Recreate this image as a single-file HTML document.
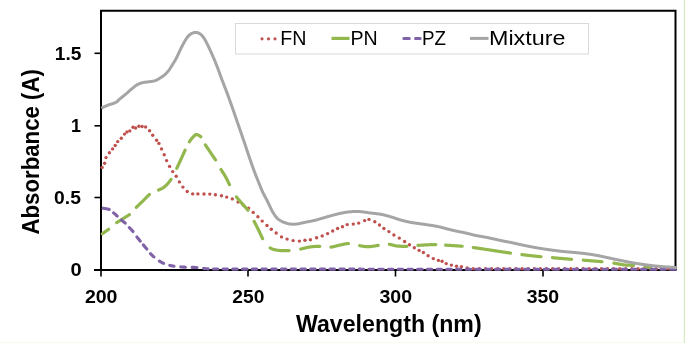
<!DOCTYPE html>
<html><head><meta charset="utf-8"><style>
html,body{margin:0;padding:0;background:#fff;}
body{width:685px;height:343px;overflow:hidden;position:relative;}
svg{position:absolute;left:0;top:0;will-change:transform;}
text{font-family:"Liberation Sans", sans-serif;}
</style></head><body>
<svg width="685" height="343" viewBox="0 0 685 343">
<rect x="0" y="0" width="685" height="343" fill="#ffffff"/>
<rect x="683" y="0" width="1" height="343" fill="#f9fcf5"/>
<rect x="684" y="0" width="1" height="343" fill="#d3ecbd"/>
<rect x="0" y="342" width="683" height="1" fill="#f4faee"/>
<!-- plot frame -->
<path d="M101,271 V10.8 H675.5 V270" fill="none" stroke="#000" stroke-width="2"/>
<line x1="94" y1="270" x2="676.5" y2="270" stroke="#000" stroke-width="2"/>
<!-- y ticks -->
<g stroke="#000" stroke-width="1.6">
<line x1="94.5" y1="53.3" x2="101" y2="53.3"/>
<line x1="94.5" y1="125.8" x2="101" y2="125.8"/>
<line x1="94.5" y1="197.5" x2="101" y2="197.5"/>
<line x1="101" y1="270" x2="101" y2="276.5"/>
<line x1="248" y1="270" x2="248" y2="276.5"/>
<line x1="395.5" y1="270" x2="395.5" y2="276.5"/>
<line x1="543" y1="270" x2="543" y2="276.5"/>
</g>
<!-- series -->
<g fill="#c0504d"><circle cx="102.1" cy="167.4" r="1.7"/><circle cx="104.6" cy="163.3" r="1.7"/><circle cx="106.0" cy="157.6" r="1.7"/><circle cx="109.4" cy="152.8" r="1.7"/><circle cx="112.6" cy="148.9" r="1.7"/><circle cx="115.2" cy="145.5" r="1.7"/><circle cx="117.7" cy="141.6" r="1.7"/><circle cx="121.3" cy="138.2" r="1.7"/><circle cx="124.5" cy="134.1" r="1.7"/><circle cx="126.9" cy="132.0" r="1.7"/><circle cx="129.8" cy="130.9" r="1.7"/><circle cx="133.0" cy="127.3" r="1.7"/><circle cx="135.6" cy="128.0" r="1.7"/><circle cx="138.9" cy="126.2" r="1.7"/><circle cx="142.1" cy="126.5" r="1.7"/><circle cx="145.6" cy="127.0" r="1.7"/><circle cx="149.6" cy="130.8" r="1.7"/><circle cx="152.7" cy="135.3" r="1.7"/><circle cx="156.6" cy="140.2" r="1.7"/><circle cx="158.9" cy="143.4" r="1.7"/><circle cx="161.5" cy="148.9" r="1.7"/><circle cx="164.2" cy="154.7" r="1.7"/><circle cx="166.6" cy="160.6" r="1.7"/><circle cx="169.6" cy="166.4" r="1.7"/><circle cx="172.7" cy="171.6" r="1.7"/><circle cx="176.2" cy="176.3" r="1.7"/><circle cx="179.4" cy="181.9" r="1.7"/><circle cx="182.9" cy="187.1" r="1.7"/><circle cx="187.2" cy="191.5" r="1.7"/><circle cx="192.7" cy="193.9" r="1.7"/><circle cx="197.9" cy="193.9" r="1.7"/><circle cx="204.0" cy="194.0" r="1.7"/><circle cx="209.8" cy="194.1" r="1.7"/><circle cx="215.4" cy="194.8" r="1.7"/><circle cx="221.5" cy="195.7" r="1.7"/><circle cx="226.7" cy="197.1" r="1.7"/><circle cx="232.3" cy="198.9" r="1.7"/><circle cx="238.1" cy="202.0" r="1.7"/><circle cx="243.3" cy="205.0" r="1.7"/><circle cx="248.6" cy="208.1" r="1.7"/><circle cx="253.2" cy="212.4" r="1.7"/><circle cx="257.9" cy="216.7" r="1.7"/><circle cx="262.2" cy="221.1" r="1.7"/><circle cx="267.0" cy="225.5" r="1.7"/><circle cx="271.3" cy="229.3" r="1.7"/><circle cx="276.2" cy="233.0" r="1.7"/><circle cx="281.5" cy="236.9" r="1.7"/><circle cx="287.1" cy="239.1" r="1.7"/><circle cx="293.1" cy="240.6" r="1.7"/><circle cx="299.4" cy="241.1" r="1.7"/><circle cx="305.0" cy="240.3" r="1.7"/><circle cx="310.4" cy="239.7" r="1.7"/><circle cx="316.6" cy="237.7" r="1.7"/><circle cx="322.2" cy="235.9" r="1.7"/><circle cx="327.6" cy="233.6" r="1.7"/><circle cx="332.7" cy="231.0" r="1.7"/><circle cx="337.6" cy="228.5" r="1.7"/><circle cx="342.5" cy="226.7" r="1.7"/><circle cx="347.2" cy="224.6" r="1.7"/><circle cx="353.3" cy="224.1" r="1.7"/><circle cx="358.7" cy="223.1" r="1.7"/><circle cx="364.6" cy="220.6" r="1.7"/><circle cx="369.0" cy="219.4" r="1.7"/><circle cx="374.8" cy="221.8" r="1.7"/><circle cx="379.5" cy="225.0" r="1.7"/><circle cx="383.9" cy="228.5" r="1.7"/><circle cx="388.9" cy="231.6" r="1.7"/><circle cx="393.9" cy="235.0" r="1.7"/><circle cx="399.3" cy="238.1" r="1.7"/><circle cx="404.6" cy="241.5" r="1.7"/><circle cx="409.5" cy="244.8" r="1.7"/><circle cx="414.3" cy="247.8" r="1.7"/><circle cx="419.1" cy="250.4" r="1.7"/><circle cx="423.4" cy="252.5" r="1.7"/><circle cx="428.1" cy="255.8" r="1.7"/><circle cx="433.3" cy="258.6" r="1.7"/><circle cx="438.4" cy="260.4" r="1.7"/><circle cx="442.1" cy="261.3" r="1.7"/><circle cx="446.2" cy="263.6" r="1.7"/><circle cx="451.4" cy="265.1" r="1.7"/><circle cx="456.5" cy="266.3" r="1.7"/><circle cx="461.4" cy="266.7" r="1.7"/><circle cx="467.2" cy="267.9" r="1.7"/><circle cx="473.3" cy="268.8" r="1.7"/><circle cx="479.4" cy="268.8" r="1.7"/><circle cx="485.5" cy="268.8" r="1.7"/><circle cx="491.6" cy="268.8" r="1.7"/><circle cx="497.7" cy="268.8" r="1.7"/><circle cx="503.8" cy="268.8" r="1.7"/><circle cx="509.9" cy="268.8" r="1.7"/><circle cx="516.0" cy="268.8" r="1.7"/><circle cx="522.1" cy="268.8" r="1.7"/><circle cx="528.2" cy="268.8" r="1.7"/><circle cx="534.3" cy="268.8" r="1.7"/><circle cx="540.4" cy="268.8" r="1.7"/><circle cx="546.5" cy="268.8" r="1.7"/><circle cx="552.6" cy="268.8" r="1.7"/><circle cx="558.7" cy="268.8" r="1.7"/><circle cx="564.8" cy="268.8" r="1.7"/><circle cx="570.9" cy="268.8" r="1.7"/><circle cx="577.0" cy="268.8" r="1.7"/><circle cx="583.1" cy="268.8" r="1.7"/><circle cx="589.2" cy="268.8" r="1.7"/><circle cx="595.3" cy="268.8" r="1.7"/><circle cx="601.4" cy="268.8" r="1.7"/><circle cx="607.5" cy="268.8" r="1.7"/><circle cx="613.6" cy="268.8" r="1.7"/><circle cx="619.7" cy="268.8" r="1.7"/><circle cx="625.8" cy="268.8" r="1.7"/><circle cx="631.9" cy="268.8" r="1.7"/><circle cx="638.0" cy="268.8" r="1.7"/><circle cx="644.1" cy="268.8" r="1.7"/><circle cx="650.2" cy="268.8" r="1.7"/><circle cx="656.3" cy="268.8" r="1.7"/><circle cx="662.4" cy="268.8" r="1.7"/><circle cx="668.5" cy="268.8" r="1.7"/><circle cx="674.6" cy="268.8" r="1.7"/></g>
<path d="M102.30,233.75 L102.60,233.55 L102.90,233.34 L103.20,233.13 L103.50,232.92 L103.80,232.71 L104.10,232.50 L104.40,232.29 L104.70,232.07 L105.00,231.86 L105.30,231.64 L105.60,231.43 L105.90,231.21 L106.20,230.99 L106.50,230.78 L106.80,230.56 L107.10,230.34 L107.40,230.12 L107.70,229.89 L108.00,229.67 L108.30,229.44 L108.60,229.22 M116.70,222.67 L117.00,222.47 L117.30,222.27 L117.60,222.07 L117.90,221.88 L118.20,221.68 L118.50,221.49 L118.80,221.30 L119.10,221.12 L119.40,220.93 L119.70,220.75 L120.00,220.56 L120.30,220.38 L120.60,220.20 L120.90,220.01 L121.20,219.83 L121.50,219.64 L121.80,219.46 L122.10,219.27 L122.40,219.08 L122.70,218.89 L123.00,218.70 L123.30,218.51 L123.60,218.32 L123.90,218.13 L124.20,217.94 L124.50,217.76 L124.80,217.57 L125.10,217.39 L125.40,217.20 L125.70,217.02 L126.00,216.83 L126.30,216.65 L126.60,216.46 L126.90,216.27 L127.20,216.08 L127.50,215.89 L127.80,215.70 L128.10,215.50 L128.40,215.30 L128.70,215.09 L129.00,214.88 L129.30,214.67 L129.40,214.60 M136.30,207.36 L136.60,207.05 L136.90,206.75 L137.20,206.45 L137.50,206.15 L137.80,205.86 L138.10,205.57 L138.40,205.28 L138.70,204.99 L139.00,204.70 L139.30,204.42 L139.60,204.14 L139.90,203.85 L140.20,203.57 L140.50,203.29 L140.80,203.01 L141.10,202.72 L141.40,202.44 L141.70,202.16 L142.00,201.87 L142.30,201.58 L142.60,201.29 L142.90,201.00 L143.20,200.71 L143.50,200.41 L143.80,200.10 L144.10,199.80 L144.40,199.49 L144.70,199.18 L145.00,198.86 L145.30,198.55 L145.60,198.24 L145.90,197.93 L146.20,197.62 L146.50,197.31 L146.80,197.00 L147.10,196.70 L147.40,196.40 L147.70,196.10 L148.00,195.81 L148.30,195.53 L148.60,195.25 L148.90,194.98 L149.20,194.72 L149.40,194.55 M158.50,190.01 L158.80,189.89 L159.10,189.77 L159.40,189.65 L159.70,189.52 L160.00,189.39 L160.30,189.26 L160.60,189.13 L160.90,188.99 L161.20,188.85 L161.50,188.71 L161.80,188.56 L162.10,188.41 L162.40,188.25 L162.70,188.09 L163.00,187.91 L163.30,187.71 L163.60,187.49 L163.90,187.26 L164.20,187.01 L164.50,186.76 L164.80,186.50 L165.10,186.23 L165.40,185.95 L165.70,185.67 L166.00,185.39 L166.30,185.11 L166.60,184.81 L166.90,184.51 L167.20,184.20 L167.50,183.87 L167.80,183.54 L168.10,183.20 L168.40,182.84 L168.70,182.48 L169.00,182.10 L169.30,181.72 L169.60,181.32 L169.90,180.92 L170.20,180.50 L170.50,180.08 L170.80,179.65 L171.00,179.35 M176.70,168.39 L177.00,167.78 L177.30,167.15 L177.60,166.52 L177.90,165.89 L178.20,165.25 L178.50,164.61 L178.80,163.97 L179.10,163.32 L179.40,162.67 L179.70,162.02 L180.00,161.37 L180.30,160.72 L180.60,160.07 L180.90,159.42 L181.20,158.76 L181.50,158.10 L181.80,157.44 L182.10,156.77 L182.40,156.09 L182.70,155.42 L183.00,154.74 L183.30,154.07 L183.60,153.40 L183.90,152.73 L184.20,152.07 L184.50,151.41 L184.80,150.76 L185.10,150.12 M189.40,141.77 L189.70,141.31 L190.00,140.87 L190.30,140.44 L190.60,140.02 L190.90,139.61 L191.20,139.22 L191.50,138.84 L191.80,138.48 L192.10,138.14 L192.40,137.81 L192.70,137.50 L193.00,137.18 L193.30,136.86 L193.60,136.53 L193.90,136.22 L194.20,135.91 L194.50,135.62 L194.80,135.35 L195.10,135.12 L195.40,134.92 L195.70,134.76 L196.00,134.64 L196.30,134.59 L196.60,134.58 L196.90,134.61 L197.20,134.68 L197.50,134.78 L197.80,134.89 L198.10,135.02 L198.40,135.16 L198.70,135.29 L199.00,135.44 L199.30,135.61 L199.60,135.80 L199.90,136.01 L200.20,136.25 L200.50,136.50 L200.80,136.78 M205.40,144.85 L205.70,145.33 L206.00,145.80 L206.30,146.27 L206.60,146.73 L206.90,147.18 L207.20,147.63 L207.50,148.08 L207.80,148.52 L208.10,148.96 L208.40,149.40 L208.70,149.84 L209.00,150.28 L209.30,150.72 L209.60,151.16 L209.90,151.60 L210.20,152.05 L210.50,152.50 L210.80,152.95 L211.10,153.40 L211.40,153.84 L211.70,154.28 L212.00,154.72 L212.30,155.16 L212.60,155.60 L212.90,156.03 L213.20,156.47 L213.50,156.92 L213.80,157.36 L214.10,157.81 L214.40,158.26 L214.70,158.72 L215.00,159.18 L215.30,159.65 L215.50,159.96 M221.00,169.49 L221.30,169.98 L221.60,170.46 L221.90,170.93 L222.20,171.40 L222.50,171.86 L222.80,172.33 L223.10,172.79 L223.40,173.26 L223.70,173.73 L224.00,174.21 L224.30,174.69 L224.60,175.19 L224.90,175.69 L225.20,176.20 L225.50,176.72 L225.80,177.26 L226.10,177.82 L226.40,178.39 L226.70,178.98 L227.00,179.57 L227.30,180.18 L227.60,180.79 L227.90,181.41 L228.20,182.02 L228.50,182.64 L228.80,183.25 L229.10,183.85 L229.40,184.45 L229.50,184.64 M236.50,196.88 L236.80,197.28 L237.10,197.67 L237.40,198.06 L237.70,198.43 L238.00,198.81 L238.30,199.17 L238.60,199.53 L238.90,199.89 L239.20,200.24 L239.50,200.59 L239.80,200.94 L240.10,201.29 L240.40,201.63 L240.70,201.98 L241.00,202.33 L241.30,202.68 L241.60,203.03 L241.90,203.38 L242.20,203.74 L242.50,204.08 L242.80,204.42 L243.10,204.75 L243.40,205.08 L243.70,205.40 L244.00,205.72 L244.30,206.04 L244.60,206.36 L244.90,206.68 L245.20,207.00 L245.50,207.32 L245.80,207.65 L246.10,207.98 L246.40,208.32 L246.70,208.66 L247.00,209.02 L247.30,209.38 L247.60,209.76 L247.90,210.14 L248.00,210.27 M254.10,221.34 L254.40,221.91 L254.70,222.48 L255.00,223.06 L255.30,223.63 L255.60,224.21 L255.90,224.79 L256.20,225.37 L256.50,225.95 L256.80,226.54 L257.10,227.12 L257.40,227.71 L257.70,228.31 L258.00,228.90 L258.30,229.50 L258.60,230.11 L258.90,230.74 L259.20,231.39 L259.50,232.04 L259.80,232.71 L260.10,233.38 L260.40,234.05 L260.70,234.71 L261.00,235.37 L261.30,236.02 L261.60,236.66 L261.90,237.28 L262.20,237.87 L262.50,238.45 L262.60,238.63 M270.10,247.92 L270.40,248.08 L270.70,248.24 L271.00,248.40 L271.30,248.54 L271.60,248.68 L271.90,248.82 L272.20,248.94 L272.50,249.06 L272.80,249.16 L273.10,249.26 L273.40,249.35 L273.70,249.43 L274.00,249.50 L274.30,249.56 L274.60,249.63 L274.90,249.70 L275.20,249.76 L275.50,249.83 L275.80,249.90 L276.10,249.96 L276.40,250.03 L276.70,250.09 L277.00,250.15 L277.30,250.20 L277.60,250.26 L277.90,250.31 L278.20,250.35 L278.50,250.39 L278.80,250.43 L279.10,250.46 L279.40,250.48 L279.70,250.50 L280.00,250.51 L280.30,250.53 L280.60,250.54 L280.90,250.55 L281.20,250.56 L281.50,250.57 L281.80,250.58 L282.10,250.59 L282.40,250.60 L282.70,250.61 L283.00,250.62 L283.30,250.62 L283.60,250.63 L283.90,250.63 L284.20,250.64 L284.50,250.64 L284.80,250.64 L285.10,250.64 L285.40,250.64 L285.70,250.64 L286.00,250.64 L286.30,250.64 L286.60,250.63 L286.90,250.63 L287.20,250.62 L287.50,250.61 L287.80,250.60 L288.10,250.59 L288.40,250.58 L288.70,250.57 L289.00,250.55 L289.10,250.55 M300.70,249.02 L301.00,248.96 L301.30,248.89 L301.60,248.83 L301.90,248.76 L302.20,248.69 L302.50,248.62 L302.80,248.55 L303.10,248.48 L303.40,248.40 L303.70,248.33 L304.00,248.26 L304.30,248.18 L304.60,248.10 L304.90,248.03 L305.20,247.95 L305.50,247.88 L305.80,247.81 L306.10,247.73 L306.40,247.66 L306.70,247.59 L307.00,247.52 L307.30,247.45 L307.60,247.39 L307.90,247.32 L308.20,247.26 L308.50,247.20 L308.80,247.15 L309.10,247.09 L309.40,247.04 L309.70,247.00 L310.00,246.95 L310.30,246.91 L310.60,246.88 L310.90,246.84 L311.20,246.81 L311.50,246.77 L311.80,246.74 L312.10,246.71 L312.40,246.68 L312.70,246.65 L313.00,246.62 L313.30,246.59 L313.60,246.57 L313.90,246.54 L314.20,246.52 L314.50,246.50 L314.80,246.48 L315.10,246.46 L315.40,246.44 L315.70,246.42 L316.00,246.40 L316.30,246.39 L316.60,246.37 L316.90,246.36 L317.20,246.35 L317.50,246.34 L317.80,246.33 L318.10,246.32 L318.40,246.31 L318.70,246.31 L319.00,246.30 L319.30,246.30 L319.60,246.30 L319.80,246.30 M330.90,247.13 L331.20,247.09 L331.50,247.05 L331.80,247.00 L332.10,246.95 L332.40,246.90 L332.70,246.84 L333.00,246.77 L333.30,246.71 L333.60,246.64 L333.90,246.57 L334.20,246.49 L334.50,246.42 L334.80,246.34 L335.10,246.26 L335.40,246.18 L335.70,246.10 L336.00,246.02 L336.30,245.94 L336.60,245.86 L336.90,245.78 L337.20,245.71 L337.50,245.63 L337.80,245.56 L338.10,245.49 L338.40,245.42 L338.70,245.36 L339.00,245.30 L339.30,245.24 L339.60,245.18 L339.90,245.12 L340.20,245.05 L340.50,244.98 L340.80,244.92 L341.10,244.85 L341.40,244.78 L341.70,244.71 L342.00,244.64 L342.30,244.57 L342.60,244.50 L342.90,244.43 L343.20,244.36 L343.50,244.29 L343.80,244.22 L344.10,244.15 L344.40,244.09 L344.70,244.03 L345.00,243.97 L345.30,243.91 L345.60,243.86 L345.90,243.80 L346.20,243.76 L346.50,243.71 L346.80,243.67 L347.10,243.63 L347.40,243.60 L347.70,243.57 L348.00,243.54 L348.30,243.53 L348.40,243.52 M359.70,245.67 L360.00,245.72 L360.30,245.77 L360.60,245.83 L360.90,245.88 L361.20,245.94 L361.50,245.99 L361.80,246.04 L362.10,246.10 L362.40,246.15 L362.70,246.20 L363.00,246.25 L363.30,246.30 L363.60,246.35 L363.90,246.39 L364.20,246.44 L364.50,246.48 L364.80,246.52 L365.10,246.55 L365.40,246.59 L365.70,246.62 L366.00,246.64 L366.30,246.66 L366.60,246.68 L366.90,246.70 L367.20,246.71 L367.50,246.71 L367.80,246.71 L368.10,246.71 L368.40,246.70 L368.70,246.69 L369.00,246.67 L369.30,246.65 L369.60,246.63 L369.90,246.60 L370.20,246.57 L370.50,246.54 L370.80,246.51 L371.10,246.48 L371.40,246.44 L371.70,246.40 L372.00,246.36 L372.30,246.32 L372.60,246.28 L372.90,246.24 L373.20,246.19 L373.50,246.15 L373.80,246.10 L374.10,246.05 L374.40,246.01 L374.70,245.96 L375.00,245.91 L375.30,245.86 L375.60,245.81 L375.90,245.76 L376.20,245.72 L376.50,245.67 L376.80,245.62 L377.10,245.58 L377.40,245.53 L377.70,245.49 L378.00,245.44 L378.20,245.42 M389.30,244.35 L389.60,244.38 L389.90,244.43 L390.20,244.48 L390.50,244.53 L390.80,244.59 L391.10,244.66 L391.40,244.73 L391.70,244.81 L392.00,244.88 L392.30,244.96 L392.60,245.05 L392.90,245.13 L393.20,245.21 L393.50,245.29 L393.80,245.38 L394.10,245.46 L394.40,245.53 L394.70,245.61 L395.00,245.68 L395.30,245.74 L395.60,245.80 L395.90,245.86 L396.20,245.91 L396.50,245.95 L396.80,245.98 L397.10,246.01 L397.40,246.03 L397.70,246.05 L398.00,246.08 L398.30,246.10 L398.60,246.12 L398.90,246.14 L399.20,246.16 L399.50,246.18 L399.80,246.20 L400.10,246.22 L400.40,246.24 L400.70,246.25 L401.00,246.27 L401.30,246.28 L401.60,246.30 L401.90,246.31 L402.20,246.32 L402.50,246.34 L402.80,246.35 L403.10,246.35 L403.40,246.36 L403.70,246.37 L404.00,246.37 L404.30,246.38 L404.60,246.38 L404.90,246.38 L405.20,246.38 L405.50,246.37 L405.80,246.37 L406.10,246.36 L406.40,246.36 L406.70,246.35 L406.80,246.34 M417.90,245.43 L418.20,245.40 L418.50,245.38 L418.80,245.36 L419.10,245.34 L419.40,245.32 L419.70,245.29 L420.00,245.27 L420.30,245.25 L420.60,245.23 L420.90,245.21 L421.20,245.19 L421.50,245.17 L421.80,245.15 L422.10,245.13 L422.40,245.11 L422.70,245.09 L423.00,245.07 L423.30,245.05 L423.60,245.03 L423.90,245.01 L424.20,245.00 L424.50,244.98 L424.80,244.96 L425.10,244.95 L425.40,244.93 L425.70,244.91 L426.00,244.90 L426.30,244.89 L426.60,244.87 L426.90,244.86 L427.20,244.84 L427.50,244.83 L427.80,244.81 L428.10,244.80 L428.40,244.78 L428.70,244.77 L429.00,244.75 L429.30,244.74 L429.60,244.73 L429.90,244.71 L430.20,244.70 L430.50,244.69 L430.80,244.68 L431.10,244.66 L431.40,244.65 L431.70,244.64 L432.00,244.63 L432.30,244.62 L432.60,244.62 L432.90,244.61 L433.20,244.60 L433.50,244.60 L433.80,244.59 L434.10,244.59 L434.40,244.58 L434.70,244.58 L435.00,244.58 L435.30,244.58 L435.60,244.58 L435.80,244.58 M445.60,245.16 L445.90,245.18 L446.20,245.20 L446.50,245.22 L446.80,245.24 L447.10,245.26 L447.40,245.27 L447.70,245.29 L448.00,245.31 L448.30,245.33 L448.60,245.35 L448.90,245.36 L449.20,245.38 L449.50,245.40 L449.80,245.42 L450.10,245.44 L450.40,245.45 L450.70,245.47 L451.00,245.49 L451.30,245.51 L451.60,245.53 L451.90,245.54 L452.20,245.56 L452.50,245.58 L452.80,245.60 L453.10,245.62 L453.40,245.63 L453.70,245.65 L454.00,245.67 L454.30,245.69 L454.60,245.71 L454.90,245.73 L455.20,245.74 L455.50,245.76 L455.80,245.78 L456.10,245.80 L456.40,245.82 L456.70,245.84 L457.00,245.86 L457.30,245.88 L457.60,245.90 L457.90,245.92 L458.20,245.94 L458.50,245.96 L458.80,245.98 L459.10,246.00 L459.40,246.02 L459.70,246.04 L460.00,246.06 L460.30,246.09 L460.60,246.11 L460.90,246.13 L461.20,246.15 L461.50,246.17 L461.80,246.20 L462.10,246.22 L462.20,246.23 M473.30,247.53 L473.60,247.58 L473.90,247.62 L474.20,247.66 L474.50,247.70 L474.80,247.74 L475.10,247.78 L475.40,247.83 L475.70,247.87 L476.00,247.91 L476.30,247.95 L476.60,248.00 L476.90,248.04 L477.20,248.08 L477.50,248.13 L477.80,248.17 L478.10,248.21 L478.40,248.26 L478.70,248.30 L479.00,248.35 L479.30,248.39 L479.60,248.44 L479.90,248.48 L480.20,248.52 L480.50,248.57 L480.80,248.61 L481.10,248.66 L481.40,248.70 L481.70,248.75 L482.00,248.79 L482.30,248.84 L482.60,248.88 L482.90,248.93 L483.20,248.98 L483.50,249.02 L483.80,249.07 L484.10,249.11 L484.40,249.16 L484.70,249.20 L485.00,249.25 L485.30,249.29 L485.60,249.34 L485.90,249.38 L486.20,249.43 L486.50,249.48 L486.80,249.52 L487.10,249.57 L487.40,249.61 L487.70,249.66 L488.00,249.70 L488.30,249.75 L488.60,249.79 L488.90,249.84 L489.20,249.88 L489.50,249.93 L489.80,249.97 L490.10,250.01 L490.40,250.06 L490.70,250.10 L491.00,250.15 L491.30,250.19 L491.60,250.24 L491.90,250.28 L492.20,250.33 L492.50,250.37 L492.80,250.42 L493.10,250.46 L493.40,250.51 L493.70,250.55 L494.00,250.60 L494.30,250.64 L494.60,250.69 L494.90,250.73 L495.20,250.78 L495.50,250.83 L495.80,250.87 L496.10,250.92 L496.40,250.96 L496.70,251.01 L497.00,251.05 L497.30,251.10 L497.60,251.14 L497.90,251.19 L498.20,251.23 L498.50,251.28 L498.80,251.33 L499.10,251.37 L499.40,251.42 L499.70,251.46 L500.00,251.51 L500.30,251.55 L500.60,251.60 L500.90,251.64 L501.20,251.69 L501.50,251.73 L501.80,251.78 L502.10,251.83 L502.40,251.87 L502.70,251.92 L503.00,251.96 L503.30,252.01 L503.60,252.05 L503.90,252.10 L504.20,252.14 L504.50,252.19 L504.80,252.23 L505.10,252.28 L505.40,252.32 L505.70,252.37 L506.00,252.41 L506.30,252.45 L506.60,252.50 L506.90,252.54 L507.20,252.59 L507.50,252.63 L507.80,252.68 L508.10,252.72 L508.40,252.77 L508.70,252.81 L509.00,252.85 L509.30,252.90 L509.60,252.94 L509.90,252.98 L510.20,253.03 L510.50,253.07 M521.90,254.62 L522.20,254.66 L522.50,254.69 L522.80,254.73 L523.10,254.77 L523.40,254.80 L523.70,254.84 L524.00,254.87 L524.30,254.91 L524.60,254.94 L524.90,254.98 L525.20,255.02 L525.50,255.05 L525.80,255.09 L526.10,255.12 L526.40,255.16 L526.70,255.19 L527.00,255.23 L527.30,255.26 L527.60,255.30 L527.90,255.33 L528.20,255.36 L528.50,255.40 L528.80,255.43 L529.10,255.47 L529.40,255.50 L529.70,255.54 L530.00,255.57 L530.30,255.60 L530.60,255.64 L530.90,255.67 L531.20,255.70 L531.50,255.74 L531.80,255.77 L532.10,255.80 L532.40,255.84 L532.70,255.87 L533.00,255.90 L533.30,255.93 L533.60,255.97 L533.90,256.00 L534.20,256.03 L534.50,256.06 L534.80,256.09 L535.10,256.12 L535.40,256.16 L535.70,256.19 L536.00,256.22 L536.30,256.25 L536.60,256.28 L536.90,256.31 L537.20,256.34 L537.50,256.37 L537.80,256.40 L538.10,256.43 L538.40,256.46 L538.70,256.49 L539.00,256.52 L539.30,256.55 L539.60,256.58 L539.90,256.61 L540.20,256.64 L540.50,256.67 L540.80,256.70 L541.00,256.72 M552.50,257.69 L552.80,257.71 L553.10,257.74 L553.40,257.76 L553.70,257.79 L554.00,257.81 L554.30,257.84 L554.60,257.87 L554.90,257.89 L555.20,257.92 L555.50,257.94 L555.80,257.97 L556.10,258.00 L556.40,258.02 L556.70,258.05 L557.00,258.08 L557.30,258.10 L557.60,258.13 L557.90,258.16 L558.20,258.18 L558.50,258.21 L558.80,258.23 L559.10,258.26 L559.40,258.29 L559.70,258.31 L560.00,258.34 L560.30,258.37 L560.60,258.39 L560.90,258.42 L561.20,258.45 L561.50,258.47 L561.80,258.50 L562.10,258.52 L562.40,258.55 L562.70,258.58 L563.00,258.60 L563.30,258.63 L563.60,258.66 L563.90,258.68 L564.20,258.71 L564.50,258.73 L564.80,258.76 L565.10,258.79 L565.40,258.81 L565.70,258.84 L566.00,258.86 L566.30,258.89 L566.60,258.91 L566.90,258.94 L567.20,258.97 L567.50,258.99 L567.80,259.02 L568.10,259.04 L568.40,259.07 L568.70,259.09 L569.00,259.12 L569.30,259.14 L569.60,259.17 L569.90,259.19 L570.20,259.22 L570.50,259.24 L570.80,259.26 L571.10,259.29 L571.40,259.31 L571.60,259.33 M583.30,260.18 L583.60,260.20 L583.90,260.22 L584.20,260.24 L584.50,260.27 L584.80,260.29 L585.10,260.31 L585.40,260.34 L585.70,260.36 L586.00,260.38 L586.30,260.41 L586.60,260.43 L586.90,260.45 L587.20,260.47 L587.50,260.50 L587.80,260.52 L588.10,260.54 L588.40,260.57 L588.70,260.59 L589.00,260.62 L589.30,260.64 L589.60,260.66 L589.90,260.69 L590.20,260.71 L590.50,260.73 L590.80,260.76 L591.10,260.78 L591.40,260.81 L591.70,260.83 L592.00,260.85 L592.30,260.88 L592.60,260.90 L592.90,260.93 L593.20,260.95 L593.50,260.98 L593.80,261.00 L594.10,261.02 L594.40,261.05 L594.70,261.07 L595.00,261.10 L595.30,261.12 L595.60,261.15 L595.90,261.18 L596.20,261.20 L596.50,261.23 L596.80,261.25 L597.10,261.28 L597.40,261.30 L597.70,261.33 L598.00,261.36 L598.30,261.38 L598.60,261.41 L598.90,261.43 L599.20,261.46 L599.50,261.49 L599.80,261.51 L600.10,261.54 L600.40,261.57 L600.70,261.60 L601.00,261.62 L601.30,261.65 L601.60,261.68 L601.90,261.71 L602.00,261.72 M613.90,263.15 L614.20,263.19 L614.50,263.24 L614.80,263.29 L615.10,263.34 L615.40,263.39 L615.70,263.45 L616.00,263.50 L616.30,263.55 L616.60,263.61 L616.90,263.66 L617.20,263.72 L617.50,263.77 L617.80,263.83 L618.10,263.89 L618.40,263.94 L618.70,264.00 L619.00,264.05 L619.30,264.11 L619.60,264.17 L619.90,264.22 L620.20,264.27 L620.50,264.33 L620.80,264.38 L621.10,264.43 L621.40,264.49 L621.70,264.54 L622.00,264.59 L622.30,264.63 L622.60,264.68 L622.90,264.73 L623.20,264.77 L623.50,264.81 L623.80,264.85 L624.10,264.89 L624.40,264.93 L624.70,264.97 L625.00,265.00 L625.30,265.03 L625.60,265.06 L625.90,265.08 L626.20,265.11 L626.50,265.13 L626.80,265.15 L627.10,265.16 L627.40,265.18 L627.70,265.19 L628.00,265.20 L628.30,265.21 L628.60,265.22 L628.90,265.23 L629.20,265.24 L629.50,265.25 L629.80,265.25 L630.10,265.26 L630.40,265.27 L630.70,265.28 L631.00,265.29 L631.30,265.29 L631.60,265.31 L631.90,265.32 L632.20,265.33 L632.50,265.34 L632.80,265.36 L633.10,265.38 L633.40,265.40 L633.70,265.42 M644.90,266.95 L645.20,266.99 L645.50,267.03 L645.80,267.08 L646.10,267.12 L646.40,267.17 L646.70,267.22 L647.00,267.26 L647.30,267.31 L647.60,267.35 L647.90,267.40 L648.20,267.44 L648.50,267.49 L648.80,267.53 L649.10,267.57 L649.40,267.62 L649.70,267.66 L650.00,267.70 L650.30,267.74 L650.60,267.78 M661.30,268.96 L661.60,268.98 L661.90,268.99" fill="none" stroke="#91b74d" stroke-width="3.2" stroke-linecap="round"/>
<path d="M103.20,208.29 L103.50,208.34 L103.80,208.38 L104.10,208.43 L104.40,208.48 L104.70,208.53 L105.00,208.58 L105.30,208.63 L105.60,208.68 L105.90,208.73 L106.20,208.78 L106.50,208.83 L106.80,208.88 L107.10,208.93 L107.40,208.99 L107.70,209.05 L108.00,209.12 L108.30,209.19 L108.60,209.26 L108.90,209.34 L109.20,209.43 M113.60,212.85 L113.90,213.11 L114.20,213.37 L114.50,213.64 L114.80,213.90 L115.10,214.17 L115.40,214.44 L115.70,214.71 L116.00,214.98 L116.30,215.25 L116.60,215.52 L116.90,215.79 L117.20,216.06 M121.50,220.01 L121.80,220.28 L122.10,220.55 L122.40,220.81 L122.70,221.07 L123.00,221.32 L123.30,221.56 L123.60,221.80 L123.90,222.03 L124.20,222.27 L124.50,222.51 L124.80,222.76 L125.10,223.02 L125.20,223.11 M129.30,227.53 L129.60,227.84 L129.90,228.15 L130.20,228.46 L130.50,228.77 L130.80,229.08 L131.10,229.39 L131.40,229.71 L131.70,230.03 L132.00,230.35 L132.30,230.69 L132.60,231.03 L132.90,231.38 L133.00,231.50 M136.90,236.93 L137.20,237.34 L137.50,237.73 L137.80,238.11 L138.10,238.49 L138.40,238.86 L138.70,239.23 L139.00,239.59 L139.30,239.95 L139.60,240.31 L139.90,240.67 L140.20,241.03 L140.30,241.15 M143.40,244.98 L143.70,245.35 L144.00,245.72 L144.30,246.08 L144.60,246.44 L144.90,246.79 L145.20,247.14 L145.50,247.49 L145.80,247.84 L146.10,248.18 L146.40,248.53 L146.70,248.88 L146.80,249.00 M150.50,253.62 L150.80,253.94 L151.10,254.26 L151.40,254.57 L151.70,254.87 L152.00,255.17 L152.30,255.47 L152.60,255.76 L152.90,256.04 L153.20,256.32 L153.50,256.59 L153.80,256.86 L153.90,256.95 M159.40,261.07 L159.70,261.26 L160.00,261.44 L160.30,261.62 L160.60,261.79 L160.90,261.97 L161.20,262.14 L161.50,262.31 L161.80,262.47 L162.10,262.63 L162.40,262.78 L162.70,262.93 L163.00,263.08 L163.30,263.22 L163.60,263.36 M169.80,265.43 L170.10,265.50 L170.40,265.56 L170.70,265.62 L171.00,265.68 L171.30,265.74 L171.60,265.80 L171.90,265.85 L172.20,265.90 L172.50,265.96 L172.80,266.01 L173.10,266.06 L173.40,266.10 L173.70,266.15 L174.00,266.19 M180.80,266.90 L181.10,266.93 L181.40,266.95 L181.70,266.97 L182.00,266.99 L182.30,267.01 L182.60,267.03 L182.90,267.05 L183.20,267.07 L183.50,267.09 L183.80,267.10 L184.10,267.12 L184.40,267.14 L184.70,267.15 L185.00,267.17 L185.30,267.18 L185.40,267.18 M192.10,267.33 L192.40,267.34 L192.70,267.35 L193.00,267.36 L193.30,267.37 L193.60,267.38 L193.90,267.40 L194.20,267.41 L194.50,267.42 L194.80,267.44 L195.10,267.45 L195.40,267.47 L195.70,267.48 L196.00,267.50 L196.30,267.52 L196.60,267.54 L196.90,267.56 L197.00,267.56 M203.60,268.53 L203.90,268.55 L204.20,268.58 L204.50,268.61 L204.80,268.63 L205.10,268.65 L205.40,268.68 L205.70,268.70 L206.00,268.72 L206.30,268.74 L206.60,268.76 L206.90,268.78 L207.20,268.80 L207.50,268.81 L207.80,268.83 L208.10,268.84 M213.30,268.95 L213.60,268.95 L213.90,268.95 L214.20,268.96 L214.50,268.96 L214.80,268.97 L215.10,268.97 L215.40,268.97 L215.70,268.98 L216.00,268.98 L216.30,268.99 L216.60,268.99 L216.90,268.99 L217.20,269.00 L217.50,269.00 L217.80,269.01 M223.00,269.06 L223.30,269.07 L223.60,269.07 L223.90,269.07 L224.20,269.07 L224.50,269.08 L224.80,269.08 L225.10,269.08 L225.40,269.08 L225.70,269.08 L226.00,269.09 L226.30,269.09 L226.60,269.09 L226.90,269.09 L227.20,269.09 L227.50,269.09 M232.70,269.10 L233.00,269.10 L233.30,269.10 L233.60,269.10 L233.90,269.10 L234.20,269.10 L234.50,269.10 L234.80,269.10 L235.10,269.10 L235.40,269.10 L235.70,269.10 L236.00,269.10 L236.30,269.10 L236.60,269.10 L236.90,269.10 L237.20,269.10 M242.50,269.11 L242.80,269.11 L243.10,269.11 L243.40,269.11 L243.70,269.11 L244.00,269.11 L244.30,269.11 L244.60,269.11 L244.90,269.11 L245.20,269.11 L245.50,269.11 L245.80,269.11 L246.10,269.11 L246.40,269.11 L246.70,269.11 L247.00,269.11 M252.20,269.11 L252.50,269.11 L252.80,269.11 L253.10,269.11 L253.40,269.11 L253.70,269.11 L254.00,269.11 L254.30,269.11 L254.60,269.11 L254.90,269.11 L255.20,269.11 L255.50,269.11 L255.80,269.11 L256.10,269.11 L256.40,269.11 L256.70,269.11 M261.90,269.12 L262.20,269.12 L262.50,269.12 L262.80,269.12 L263.10,269.12 L263.40,269.12 L263.70,269.12 L264.00,269.12 L264.30,269.12 L264.60,269.12 L264.90,269.12 L265.20,269.12 L265.50,269.12 L265.80,269.12 L266.10,269.12 L266.40,269.12 M271.70,269.12 L272.00,269.12 L272.30,269.12 L272.60,269.12 L272.90,269.12 L273.20,269.12 L273.50,269.12 L273.80,269.12 L274.10,269.12 L274.40,269.12 L274.70,269.12 L275.00,269.12 L275.30,269.12 L275.60,269.12 L275.90,269.13 L276.20,269.13 M281.40,269.13 L281.70,269.13 L282.00,269.13 L282.30,269.13 L282.60,269.13 L282.90,269.13 L283.20,269.13 L283.50,269.13 L283.80,269.13 L284.10,269.13 L284.40,269.13 L284.70,269.13 L285.00,269.13 L285.30,269.13 L285.60,269.13 L285.90,269.13 M291.10,269.13 L291.40,269.13 L291.70,269.13 L292.00,269.13 L292.30,269.13 L292.60,269.13 L292.90,269.13 L293.20,269.13 L293.50,269.14 L293.80,269.14 L294.10,269.14 L294.40,269.14 L294.70,269.14 L295.00,269.14 L295.30,269.14 L295.60,269.14 M300.90,269.14 L301.20,269.14 L301.50,269.14 L301.80,269.14 L302.10,269.14 L302.40,269.14 L302.70,269.14 L303.00,269.14 L303.30,269.14 L303.60,269.14 L303.90,269.14 L304.20,269.14 L304.50,269.14 L304.80,269.14 L305.10,269.14 L305.40,269.14 M310.60,269.15 L310.90,269.15 L311.20,269.15 L311.50,269.15 L311.80,269.15 L312.10,269.15 L312.40,269.15 L312.70,269.15 L313.00,269.15 L313.30,269.15 L313.60,269.15 L313.90,269.15 L314.20,269.15 L314.50,269.15 L314.80,269.15 L315.10,269.15 M320.30,269.15 L320.60,269.15 L320.90,269.15 L321.20,269.15 L321.50,269.15 L321.80,269.15 L322.10,269.15 L322.40,269.15 L322.70,269.15 L323.00,269.15 L323.30,269.15 L323.60,269.15 L323.90,269.15 L324.20,269.15 L324.50,269.15 L324.80,269.15 M330.00,269.16 L330.30,269.16 L330.60,269.16 L330.90,269.16 L331.20,269.16 L331.50,269.16 L331.80,269.16 L332.10,269.16 L332.40,269.16 L332.70,269.16 L333.00,269.16 L333.30,269.16 L333.60,269.16 L333.90,269.16 L334.20,269.16 L334.50,269.16 M339.80,269.16 L340.10,269.16 L340.40,269.16 L340.70,269.16 L341.00,269.16 L341.30,269.16 L341.60,269.16 L341.90,269.16 L342.20,269.16 L342.50,269.16 L342.80,269.16 L343.10,269.16 L343.40,269.16 L343.70,269.16 L344.00,269.16 L344.30,269.17 M349.50,269.17 L349.80,269.17 L350.10,269.17 L350.40,269.17 L350.70,269.17 L351.00,269.17 L351.30,269.17 L351.60,269.17 L351.90,269.17 L352.20,269.17 L352.50,269.17 L352.80,269.17 L353.10,269.17 L353.40,269.17 L353.70,269.17 L354.00,269.17 M359.20,269.17 L359.50,269.17 L359.80,269.17 L360.10,269.17 L360.40,269.17 L360.70,269.17 L361.00,269.18 L361.30,269.18 L361.60,269.18 L361.90,269.18 L362.20,269.18 L362.50,269.18 L362.80,269.18 L363.10,269.18 L363.40,269.18 L363.70,269.18 M369.00,269.18 L369.30,269.18 L369.60,269.18 L369.90,269.18 L370.20,269.18 L370.50,269.18 L370.80,269.18 L371.10,269.18 L371.40,269.18 L371.70,269.18 L372.00,269.18 L372.30,269.18 L372.60,269.18 L372.90,269.18 L373.20,269.18 L373.50,269.18 M378.70,269.19 L379.00,269.19 L379.30,269.19 L379.60,269.19 L379.90,269.19 L380.20,269.19 L380.50,269.19 L380.80,269.19 L381.10,269.19 L381.40,269.19 L381.70,269.19 L382.00,269.19 L382.30,269.19 L382.60,269.19 L382.90,269.19 L383.20,269.19 M388.40,269.19 L388.70,269.19 L389.00,269.19 L389.30,269.19 L389.60,269.19 L389.90,269.19 L390.20,269.19 L390.50,269.19 L390.80,269.19 L391.10,269.19 L391.40,269.19 L391.70,269.19 L392.00,269.19 L392.30,269.19 L392.60,269.19 L392.90,269.19 M398.20,269.20 L398.50,269.20 L398.80,269.20 L399.10,269.20 L399.40,269.20 L399.70,269.20 L400.00,269.20 L400.30,269.20 L400.60,269.20 L400.90,269.20 L401.20,269.20 L401.50,269.20 L401.80,269.20 L402.10,269.20 L402.40,269.20 L402.70,269.20 M407.90,269.20 L408.20,269.20 L408.50,269.20 L408.80,269.20 L409.10,269.20 L409.40,269.20 L409.70,269.20 L410.00,269.20 L410.30,269.20 L410.60,269.20 L410.90,269.20 L411.20,269.20 L411.50,269.20 L411.80,269.21 L412.10,269.21 L412.40,269.21 M417.60,269.21 L417.90,269.21 L418.20,269.21 L418.50,269.21 L418.80,269.21 L419.10,269.21 L419.40,269.21 L419.70,269.21 L420.00,269.21 L420.30,269.21 L420.60,269.21 L420.90,269.21 L421.20,269.21 L421.50,269.21 L421.80,269.21 L422.10,269.21 M427.30,269.21 L427.60,269.21 L427.90,269.21 L428.20,269.21 L428.50,269.21 L428.80,269.21 L429.10,269.21 L429.40,269.22 L429.70,269.22 L430.00,269.22 L430.30,269.22 L430.60,269.22 L430.90,269.22 L431.20,269.22 L431.50,269.22 L431.80,269.22 M437.10,269.22 L437.40,269.22 L437.70,269.22 L438.00,269.22 L438.30,269.22 L438.60,269.22 L438.90,269.22 L439.20,269.22 L439.50,269.22 L439.80,269.22 L440.10,269.22 L440.40,269.22 L440.70,269.22 L441.00,269.22 L441.30,269.22 L441.60,269.22 M446.80,269.22 L447.10,269.22 L447.40,269.23 L447.70,269.23 L448.00,269.23 L448.30,269.23 L448.60,269.23 L448.90,269.23 L449.20,269.23 L449.50,269.23 L449.80,269.23 L450.10,269.23 L450.40,269.23 L450.70,269.23 L451.00,269.23 L451.30,269.23 M456.50,269.23 L456.80,269.23 L457.10,269.23 L457.40,269.23 L457.70,269.23 L458.00,269.23 L458.30,269.23 L458.60,269.23 L458.90,269.23 L459.20,269.23 L459.50,269.23 L459.80,269.23 L460.10,269.23 L460.40,269.23 L460.70,269.23 L461.00,269.23 M466.30,269.24 L466.60,269.24 L466.90,269.24 L467.20,269.24 L467.50,269.24 L467.80,269.24 L468.10,269.24 L468.40,269.24 L468.70,269.24 L469.00,269.24 L469.30,269.24 L469.60,269.24 L469.90,269.24 L470.20,269.24 L470.50,269.24 L470.80,269.24 M476.00,269.24 L476.30,269.24 L476.60,269.24 L476.90,269.24 L477.20,269.24 L477.50,269.24 L477.80,269.24 L478.10,269.24 L478.40,269.24 L478.70,269.24 L479.00,269.24 L479.30,269.24 L479.60,269.24 L479.90,269.24 L480.20,269.24 L480.50,269.24 M485.70,269.25 L486.00,269.25 L486.30,269.25 L486.60,269.25 L486.90,269.25 L487.20,269.25 L487.50,269.25 L487.80,269.25 L488.10,269.25 L488.40,269.25 L488.70,269.25 L489.00,269.25 L489.30,269.25 L489.60,269.25 L489.90,269.25 L490.20,269.25 M495.50,269.25 L495.80,269.25 L496.10,269.25 L496.40,269.25 L496.70,269.25 L497.00,269.25 L497.30,269.25 L497.60,269.25 L497.90,269.25 L498.20,269.25 L498.50,269.25 L498.80,269.25 L499.10,269.25 L499.40,269.25 L499.70,269.25 L500.00,269.25 M505.20,269.25 L505.50,269.25 L505.80,269.25 L506.10,269.25 L506.40,269.25 L506.70,269.26 L507.00,269.26 L507.30,269.26 L507.60,269.26 L507.90,269.26 L508.20,269.26 L508.50,269.26 L508.80,269.26 L509.10,269.26 L509.40,269.26 L509.70,269.26 M514.90,269.26 L515.20,269.26 L515.50,269.26 L515.80,269.26 L516.10,269.26 L516.40,269.26 L516.70,269.26 L517.00,269.26 L517.30,269.26 L517.60,269.26 L517.90,269.26 L518.20,269.26 L518.50,269.26 L518.80,269.26 L519.10,269.26 L519.40,269.26 M524.60,269.26 L524.90,269.26 L525.20,269.26 L525.50,269.26 L525.80,269.26 L526.10,269.26 L526.40,269.26 L526.70,269.26 L527.00,269.26 L527.30,269.26 L527.60,269.26 L527.90,269.26 L528.20,269.26 L528.50,269.26 L528.80,269.26 L529.10,269.27 M534.40,269.27 L534.70,269.27 L535.00,269.27 L535.30,269.27 L535.60,269.27 L535.90,269.27 L536.20,269.27 L536.50,269.27 L536.80,269.27 L537.10,269.27 L537.40,269.27 L537.70,269.27 L538.00,269.27 L538.30,269.27 L538.60,269.27 L538.90,269.27 M544.10,269.27 L544.40,269.27 L544.70,269.27 L545.00,269.27 L545.30,269.27 L545.60,269.27 L545.90,269.27 L546.20,269.27 L546.50,269.27 L546.80,269.27 L547.10,269.27 L547.40,269.27 L547.70,269.27 L548.00,269.27 L548.30,269.27 L548.60,269.27 M553.80,269.27 L554.10,269.27 L554.40,269.28 L554.70,269.28 L555.00,269.28 L555.30,269.28 L555.60,269.28 L555.90,269.28 L556.20,269.28 L556.50,269.28 L556.80,269.28 L557.10,269.28 L557.40,269.28 L557.70,269.28 L558.00,269.28 L558.30,269.28 M563.60,269.28 L563.90,269.28 L564.20,269.28 L564.50,269.28 L564.80,269.28 L565.10,269.28 L565.40,269.28 L565.70,269.28 L566.00,269.28 L566.30,269.28 L566.60,269.28 L566.90,269.28 L567.20,269.28 L567.50,269.28 L567.80,269.28 L568.10,269.28 M573.30,269.28 L573.60,269.28 L573.90,269.28 L574.20,269.28 L574.50,269.28 L574.80,269.28 L575.10,269.28 L575.40,269.28 L575.70,269.28 L576.00,269.28 L576.30,269.28 L576.60,269.28 L576.90,269.28 L577.20,269.28 L577.50,269.28 L577.80,269.28 M583.00,269.28 L583.30,269.28 L583.60,269.28 L583.90,269.28 L584.20,269.28 L584.50,269.29 L584.80,269.29 L585.10,269.29 L585.40,269.29 L585.70,269.29 L586.00,269.29 L586.30,269.29 L586.60,269.29 L586.90,269.29 L587.20,269.29 L587.50,269.29 M592.80,269.29 L593.10,269.29 L593.40,269.29 L593.70,269.29 L594.00,269.29 L594.30,269.29 L594.60,269.29 L594.90,269.29 L595.20,269.29 L595.50,269.29 L595.80,269.29 L596.10,269.29 L596.40,269.29 L596.70,269.29 L597.00,269.29 L597.30,269.29 M602.50,269.29 L602.80,269.29 L603.10,269.29 L603.40,269.29 L603.70,269.29 L604.00,269.29 L604.30,269.29 L604.60,269.29 L604.90,269.29 L605.20,269.29 L605.50,269.29 L605.80,269.29 L606.10,269.29 L606.40,269.29 L606.70,269.29 L607.00,269.29 M612.20,269.29 L612.50,269.29 L612.80,269.29 L613.10,269.29 L613.40,269.29 L613.70,269.29 L614.00,269.29 L614.30,269.29 L614.60,269.29 L614.90,269.29 L615.20,269.29 L615.50,269.29 L615.80,269.29 L616.10,269.29 L616.40,269.29 L616.70,269.29 M621.90,269.29 L622.20,269.29 L622.50,269.29 L622.80,269.29 L623.10,269.29 L623.40,269.29 L623.70,269.29 L624.00,269.29 L624.30,269.29 L624.60,269.29 L624.90,269.29 L625.20,269.29 L625.50,269.29 L625.80,269.29 L626.10,269.30 L626.40,269.30 M631.70,269.30 L632.00,269.30 L632.30,269.30 L632.60,269.30 L632.90,269.30 L633.20,269.30 L633.50,269.30 L633.80,269.30 L634.10,269.30 L634.40,269.30 L634.70,269.30 L635.00,269.30 L635.30,269.30 L635.60,269.30 L635.90,269.30 L636.20,269.30 M641.40,269.30 L641.70,269.30 L642.00,269.30 L642.30,269.30 L642.60,269.30 L642.90,269.30 L643.20,269.30 L643.50,269.30 L643.80,269.30 L644.10,269.30 L644.40,269.30 L644.70,269.30 L645.00,269.30 L645.30,269.30 L645.60,269.30 L645.90,269.30 M651.10,269.30 L651.40,269.30 L651.70,269.30 L652.00,269.30 L652.30,269.30 L652.60,269.30 L652.90,269.30 L653.20,269.30 L653.50,269.30 L653.80,269.30 L654.10,269.30 L654.40,269.30 L654.70,269.30 L655.00,269.30 L655.30,269.30 L655.60,269.30 M660.90,269.30 L661.20,269.30 L661.50,269.30 L661.80,269.30 L662.10,269.30 L662.40,269.30 L662.70,269.30 L663.00,269.30 L663.30,269.30 L663.60,269.30 L663.90,269.30 L664.20,269.30 L664.50,269.30 L664.80,269.30 L665.10,269.30 L665.40,269.30 M670.60,269.30 L670.90,269.30 L671.20,269.30 L671.50,269.30 L671.80,269.30 L672.10,269.30 L672.40,269.30 L672.70,269.30 L673.00,269.30 L673.30,269.30 L673.60,269.30 L673.90,269.30 L674.20,269.30 L674.50,269.30 L674.80,269.30 L675.10,269.30" fill="none" stroke="#7f62a8" stroke-width="3.1" stroke-linecap="round"/>
<path d="M101.30,108.20 L101.55,108.07 L101.80,107.95 L102.05,107.82 L102.30,107.70 L102.55,107.58 L102.80,107.45 L103.05,107.33 L103.30,107.21 L103.55,107.09 L103.80,106.97 L104.05,106.86 L104.30,106.74 L104.55,106.62 L104.80,106.51 L105.05,106.40 L105.30,106.28 L105.55,106.17 L105.80,106.06 L106.05,105.95 L106.30,105.84 L106.55,105.73 L106.80,105.62 L107.05,105.51 L107.30,105.40 L107.55,105.29 L107.80,105.19 L108.05,105.10 L108.30,105.00 L108.55,104.91 L108.80,104.83 L109.05,104.74 L109.30,104.66 L109.55,104.58 L109.80,104.50 L110.05,104.42 L110.30,104.35 L110.55,104.27 L110.80,104.20 L111.05,104.12 L111.30,104.05 L111.55,103.98 L111.80,103.90 L112.05,103.82 L112.30,103.75 L112.55,103.67 L112.80,103.59 L113.05,103.50 L113.30,103.42 L113.55,103.33 L113.80,103.24 L114.05,103.14 L114.30,103.05 L114.55,102.94 L114.80,102.84 L115.05,102.73 L115.30,102.61 L115.55,102.49 L115.80,102.36 L116.05,102.23 L116.30,102.08 L116.55,101.92 L116.80,101.74 L117.05,101.54 L117.30,101.33 L117.55,101.11 L117.80,100.88 L118.05,100.64 L118.30,100.40 L118.55,100.15 L118.80,99.91 L119.05,99.67 L119.30,99.43 L119.55,99.20 L119.80,98.97 L120.05,98.76 L120.30,98.55 L120.55,98.34 L120.80,98.14 L121.05,97.94 L121.30,97.73 L121.55,97.53 L121.80,97.33 L122.05,97.13 L122.30,96.93 L122.55,96.73 L122.80,96.53 L123.05,96.34 L123.30,96.14 L123.55,95.94 L123.80,95.74 L124.05,95.54 L124.30,95.34 L124.55,95.13 L124.80,94.93 L125.05,94.73 L125.30,94.52 L125.55,94.31 L125.80,94.10 L126.05,93.89 L126.30,93.67 L126.55,93.45 L126.80,93.23 L127.05,93.01 L127.30,92.79 L127.55,92.56 L127.80,92.34 L128.05,92.11 L128.30,91.88 L128.55,91.66 L128.80,91.43 L129.05,91.20 L129.30,90.98 L129.55,90.75 L129.80,90.53 L130.05,90.31 L130.30,90.09 L130.55,89.87 L130.80,89.65 L131.05,89.44 L131.30,89.23 L131.55,89.02 L131.80,88.82 L132.05,88.61 L132.30,88.41 L132.55,88.20 L132.80,87.99 L133.05,87.78 L133.30,87.57 L133.55,87.37 L133.80,87.16 L134.05,86.96 L134.30,86.75 L134.55,86.56 L134.80,86.36 L135.05,86.17 L135.30,85.98 L135.55,85.80 L135.80,85.62 L136.05,85.45 L136.30,85.29 L136.55,85.13 L136.80,84.98 L137.05,84.83 L137.30,84.70 L137.55,84.58 L137.80,84.45 L138.05,84.33 L138.30,84.22 L138.55,84.10 L138.80,83.98 L139.05,83.87 L139.30,83.76 L139.55,83.65 L139.80,83.55 L140.05,83.45 L140.30,83.35 L140.55,83.25 L140.80,83.16 L141.05,83.08 L141.30,82.99 L141.55,82.91 L141.80,82.84 L142.05,82.77 L142.30,82.71 L142.55,82.65 L142.80,82.59 L143.05,82.54 L143.30,82.50 L143.55,82.46 L143.80,82.42 L144.05,82.39 L144.30,82.35 L144.55,82.32 L144.80,82.29 L145.05,82.26 L145.30,82.23 L145.55,82.20 L145.80,82.17 L146.05,82.14 L146.30,82.11 L146.55,82.08 L146.80,82.05 L147.05,82.02 L147.30,81.99 L147.55,81.96 L147.80,81.93 L148.05,81.89 L148.30,81.86 L148.55,81.83 L148.80,81.79 L149.05,81.76 L149.30,81.73 L149.55,81.69 L149.80,81.66 L150.05,81.62 L150.30,81.59 L150.55,81.56 L150.80,81.52 L151.05,81.48 L151.30,81.45 L151.55,81.41 L151.80,81.38 L152.05,81.34 L152.30,81.30 L152.55,81.26 L152.80,81.22 L153.05,81.17 L153.30,81.12 L153.55,81.07 L153.80,81.02 L154.05,80.96 L154.30,80.90 L154.55,80.83 L154.80,80.76 L155.05,80.68 L155.30,80.60 L155.55,80.51 L155.80,80.41 L156.05,80.30 L156.30,80.18 L156.55,80.06 L156.80,79.93 L157.05,79.79 L157.30,79.66 L157.55,79.51 L157.80,79.37 L158.05,79.22 L158.30,79.07 L158.55,78.92 L158.80,78.77 L159.05,78.62 L159.30,78.47 L159.55,78.33 L159.80,78.18 L160.05,78.04 L160.30,77.89 L160.55,77.74 L160.80,77.59 L161.05,77.43 L161.30,77.27 L161.55,77.11 L161.80,76.95 L162.05,76.78 L162.30,76.61 L162.55,76.44 L162.80,76.26 L163.05,76.08 L163.30,75.90 L163.55,75.71 L163.80,75.52 L164.05,75.33 L164.30,75.12 L164.55,74.91 L164.80,74.69 L165.05,74.46 L165.30,74.23 L165.55,73.99 L165.80,73.74 L166.05,73.49 L166.30,73.23 L166.55,72.96 L166.80,72.69 L167.05,72.42 L167.30,72.14 L167.55,71.85 L167.80,71.56 L168.05,71.26 L168.30,70.96 L168.55,70.64 L168.80,70.31 L169.05,69.96 L169.30,69.61 L169.55,69.25 L169.80,68.87 L170.05,68.50 L170.30,68.11 L170.55,67.72 L170.80,67.32 L171.05,66.92 L171.30,66.52 L171.55,66.12 L171.80,65.72 L172.05,65.32 L172.30,64.92 L172.55,64.52 L172.80,64.13 L173.05,63.73 L173.30,63.33 L173.55,62.93 L173.80,62.52 L174.05,62.12 L174.30,61.70 L174.55,61.29 L174.80,60.87 L175.05,60.44 L175.30,60.01 L175.55,59.57 L175.80,59.12 L176.05,58.66 L176.30,58.20 L176.55,57.72 L176.80,57.24 L177.05,56.73 L177.30,56.22 L177.55,55.70 L177.80,55.17 L178.05,54.63 L178.30,54.09 L178.55,53.54 L178.80,52.99 L179.05,52.44 L179.30,51.89 L179.55,51.35 L179.80,50.80 L180.05,50.27 L180.30,49.74 L180.55,49.21 L180.80,48.70 L181.05,48.20 L181.30,47.71 L181.55,47.22 L181.80,46.73 L182.05,46.24 L182.30,45.76 L182.55,45.28 L182.80,44.81 L183.05,44.35 L183.30,43.88 L183.55,43.43 L183.80,42.98 L184.05,42.54 L184.30,42.11 L184.55,41.68 L184.80,41.26 L185.05,40.84 L185.30,40.41 L185.55,39.98 L185.80,39.56 L186.05,39.14 L186.30,38.73 L186.55,38.33 L186.80,37.95 L187.05,37.58 L187.30,37.24 L187.55,36.92 L187.80,36.62 L188.05,36.35 L188.30,36.10 L188.55,35.86 L188.80,35.63 L189.05,35.39 L189.30,35.17 L189.55,34.95 L189.80,34.74 L190.05,34.53 L190.30,34.34 L190.55,34.15 L190.80,33.98 L191.05,33.81 L191.30,33.66 L191.55,33.52 L191.80,33.39 L192.05,33.27 L192.30,33.17 L192.55,33.08 L192.80,33.00 L193.05,32.92 L193.30,32.85 L193.55,32.78 L193.80,32.71 L194.05,32.64 L194.30,32.59 L194.55,32.53 L194.80,32.49 L195.05,32.45 L195.30,32.42 L195.55,32.40 L195.80,32.39 L196.05,32.39 L196.30,32.39 L196.55,32.41 L196.80,32.45 L197.05,32.50 L197.30,32.56 L197.55,32.64 L197.80,32.73 L198.05,32.83 L198.30,32.94 L198.55,33.06 L198.80,33.18 L199.05,33.32 L199.30,33.46 L199.55,33.60 L199.80,33.74 L200.05,33.89 L200.30,34.04 L200.55,34.19 L200.80,34.37 L201.05,34.58 L201.30,34.81 L201.55,35.05 L201.80,35.32 L202.05,35.61 L202.30,35.90 L202.55,36.21 L202.80,36.53 L203.05,36.86 L203.30,37.20 L203.55,37.53 L203.80,37.88 L204.05,38.25 L204.30,38.63 L204.55,39.04 L204.80,39.47 L205.05,39.90 L205.30,40.36 L205.55,40.82 L205.80,41.29 L206.05,41.76 L206.30,42.25 L206.55,42.73 L206.80,43.21 L207.05,43.70 L207.30,44.18 L207.55,44.68 L207.80,45.19 L208.05,45.70 L208.30,46.22 L208.55,46.74 L208.80,47.27 L209.05,47.81 L209.30,48.35 L209.55,48.89 L209.80,49.43 L210.05,49.98 L210.30,50.53 L210.55,51.07 L210.80,51.62 L211.05,52.17 L211.30,52.72 L211.55,53.27 L211.80,53.82 L212.05,54.38 L212.30,54.94 L212.55,55.51 L212.80,56.07 L213.05,56.64 L213.30,57.22 L213.55,57.80 L213.80,58.38 L214.05,58.97 L214.30,59.56 L214.55,60.16 L214.80,60.76 L215.05,61.37 L215.30,61.99 L215.55,62.61 L215.80,63.23 L216.05,63.86 L216.30,64.49 L216.55,65.13 L216.80,65.77 L217.05,66.42 L217.30,67.07 L217.55,67.72 L217.80,68.37 L218.05,69.03 L218.30,69.70 L218.55,70.37 L218.80,71.05 L219.05,71.74 L219.30,72.43 L219.55,73.12 L219.80,73.82 L220.05,74.51 L220.30,75.21 L220.55,75.90 L220.80,76.59 L221.05,77.28 L221.30,77.96 L221.55,78.63 L221.80,79.30 L222.05,79.96 L222.30,80.62 L222.55,81.28 L222.80,81.93 L223.05,82.58 L223.30,83.23 L223.55,83.88 L223.80,84.52 L224.05,85.16 L224.30,85.81 L224.55,86.45 L224.80,87.09 L225.05,87.74 L225.30,88.38 L225.55,89.03 L225.80,89.68 L226.05,90.33 L226.30,90.99 L226.55,91.65 L226.80,92.31 L227.05,92.97 L227.30,93.64 L227.55,94.32 L227.80,95.00 L228.05,95.68 L228.30,96.37 L228.55,97.06 L228.80,97.75 L229.05,98.44 L229.30,99.14 L229.55,99.83 L229.80,100.53 L230.05,101.23 L230.30,101.93 L230.55,102.63 L230.80,103.33 L231.05,104.04 L231.30,104.74 L231.55,105.45 L231.80,106.16 L232.05,106.87 L232.30,107.58 L232.55,108.29 L232.80,109.00 L233.05,109.71 L233.30,110.43 L233.55,111.14 L233.80,111.86 L234.05,112.58 L234.30,113.30 L234.55,114.02 L234.80,114.74 L235.05,115.46 L235.30,116.18 L235.55,116.90 L235.80,117.62 L236.05,118.34 L236.30,119.07 L236.55,119.79 L236.80,120.51 L237.05,121.24 L237.30,121.96 L237.55,122.69 L237.80,123.41 L238.05,124.14 L238.30,124.86 L238.55,125.59 L238.80,126.31 L239.05,127.04 L239.30,127.76 L239.55,128.49 L239.80,129.21 L240.05,129.94 L240.30,130.66 L240.55,131.39 L240.80,132.11 L241.05,132.83 L241.30,133.56 L241.55,134.28 L241.80,135.00 L242.05,135.72 L242.30,136.45 L242.55,137.18 L242.80,137.91 L243.05,138.64 L243.30,139.37 L243.55,140.11 L243.80,140.84 L244.05,141.58 L244.30,142.32 L244.55,143.06 L244.80,143.80 L245.05,144.55 L245.30,145.29 L245.55,146.04 L245.80,146.78 L246.05,147.53 L246.30,148.27 L246.55,149.02 L246.80,149.76 L247.05,150.51 L247.30,151.25 L247.55,151.99 L247.80,152.74 L248.05,153.48 L248.30,154.22 L248.55,154.96 L248.80,155.70 L249.05,156.44 L249.30,157.17 L249.55,157.91 L249.80,158.64 L250.05,159.37 L250.30,160.10 L250.55,160.83 L250.80,161.55 L251.05,162.27 L251.30,162.99 L251.55,163.71 L251.80,164.42 L252.05,165.13 L252.30,165.84 L252.55,166.54 L252.80,167.24 L253.05,167.94 L253.30,168.63 L253.55,169.32 L253.80,170.00 L254.05,170.68 L254.30,171.35 L254.55,172.01 L254.80,172.67 L255.05,173.32 L255.30,173.96 L255.55,174.61 L255.80,175.24 L256.05,175.87 L256.30,176.50 L256.55,177.13 L256.80,177.76 L257.05,178.38 L257.30,179.00 L257.55,179.63 L257.80,180.25 L258.05,180.88 L258.30,181.50 L258.55,182.14 L258.80,182.77 L259.05,183.40 L259.30,184.04 L259.55,184.67 L259.80,185.30 L260.05,185.92 L260.30,186.55 L260.55,187.16 L260.80,187.77 L261.05,188.37 L261.30,188.96 L261.55,189.54 L261.80,190.11 L262.05,190.67 L262.30,191.22 L262.55,191.75 L262.80,192.27 L263.05,192.79 L263.30,193.30 L263.55,193.80 L263.80,194.29 L264.05,194.78 L264.30,195.27 L264.55,195.75 L264.80,196.22 L265.05,196.70 L265.30,197.17 L265.55,197.65 L265.80,198.12 L266.05,198.59 L266.30,199.07 L266.55,199.55 L266.80,200.03 L267.05,200.51 L267.30,201.00 L267.55,201.50 L267.80,202.00 L268.05,202.52 L268.30,203.04 L268.55,203.56 L268.80,204.09 L269.05,204.63 L269.30,205.16 L269.55,205.70 L269.80,206.23 L270.05,206.76 L270.30,207.29 L270.55,207.81 L270.80,208.33 L271.05,208.84 L271.30,209.34 L271.55,209.83 L271.80,210.30 L272.05,210.77 L272.30,211.22 L272.55,211.65 L272.80,212.07 L273.05,212.48 L273.30,212.89 L273.55,213.30 L273.80,213.70 L274.05,214.10 L274.30,214.50 L274.55,214.88 L274.80,215.26 L275.05,215.63 L275.30,215.99 L275.55,216.34 L275.80,216.68 L276.05,217.00 L276.30,217.31 L276.55,217.61 L276.80,217.89 L277.05,218.15 L277.30,218.39 L277.55,218.62 L277.80,218.82 L278.05,219.01 L278.30,219.20 L278.55,219.38 L278.80,219.56 L279.05,219.73 L279.30,219.90 L279.55,220.07 L279.80,220.24 L280.05,220.40 L280.30,220.56 L280.55,220.71 L280.80,220.86 L281.05,221.01 L281.30,221.15 L281.55,221.29 L281.80,221.42 L282.05,221.55 L282.30,221.67 L282.55,221.79 L282.80,221.90 L283.05,222.01 L283.30,222.11 L283.55,222.21 L283.80,222.30 L284.05,222.38 L284.30,222.46 L284.55,222.55 L284.80,222.63 L285.05,222.71 L285.30,222.80 L285.55,222.88 L285.80,222.96 L286.05,223.05 L286.30,223.13 L286.55,223.21 L286.80,223.29 L287.05,223.37 L287.30,223.45 L287.55,223.52 L287.80,223.59 L288.05,223.66 L288.30,223.72 L288.55,223.78 L288.80,223.84 L289.05,223.89 L289.30,223.94 L289.55,223.98 L289.80,224.02 L290.05,224.05 L290.30,224.08 L290.55,224.10 L290.80,224.11 L291.05,224.12 L291.30,224.14 L291.55,224.15 L291.80,224.16 L292.05,224.17 L292.30,224.17 L292.55,224.18 L292.80,224.18 L293.05,224.19 L293.30,224.19 L293.55,224.19 L293.80,224.19 L294.05,224.18 L294.30,224.18 L294.55,224.17 L294.80,224.16 L295.05,224.15 L295.30,224.13 L295.55,224.12 L295.80,224.10 L296.05,224.08 L296.30,224.06 L296.55,224.03 L296.80,224.01 L297.05,223.98 L297.30,223.94 L297.55,223.91 L297.80,223.87 L298.05,223.83 L298.30,223.79 L298.55,223.74 L298.80,223.70 L299.05,223.65 L299.30,223.60 L299.55,223.55 L299.80,223.49 L300.05,223.44 L300.30,223.38 L300.55,223.33 L300.80,223.27 L301.05,223.21 L301.30,223.16 L301.55,223.10 L301.80,223.04 L302.05,222.98 L302.30,222.92 L302.55,222.86 L302.80,222.80 L303.05,222.74 L303.30,222.69 L303.55,222.63 L303.80,222.57 L304.05,222.52 L304.30,222.46 L304.55,222.41 L304.80,222.36 L305.05,222.31 L305.30,222.26 L305.55,222.21 L305.80,222.16 L306.05,222.11 L306.30,222.06 L306.55,222.01 L306.80,221.96 L307.05,221.91 L307.30,221.86 L307.55,221.82 L307.80,221.77 L308.05,221.72 L308.30,221.67 L308.55,221.63 L308.80,221.58 L309.05,221.53 L309.30,221.48 L309.55,221.44 L309.80,221.39 L310.05,221.34 L310.30,221.29 L310.55,221.24 L310.80,221.19 L311.05,221.15 L311.30,221.10 L311.55,221.05 L311.80,221.00 L312.05,220.95 L312.30,220.89 L312.55,220.84 L312.80,220.79 L313.05,220.74 L313.30,220.68 L313.55,220.63 L313.80,220.57 L314.05,220.52 L314.30,220.46 L314.55,220.41 L314.80,220.35 L315.05,220.29 L315.30,220.23 L315.55,220.17 L315.80,220.10 L316.05,220.04 L316.30,219.97 L316.55,219.90 L316.80,219.83 L317.05,219.76 L317.30,219.69 L317.55,219.62 L317.80,219.54 L318.05,219.47 L318.30,219.40 L318.55,219.32 L318.80,219.25 L319.05,219.17 L319.30,219.10 L319.55,219.02 L319.80,218.95 L320.05,218.88 L320.30,218.80 L320.55,218.73 L320.80,218.66 L321.05,218.59 L321.30,218.51 L321.55,218.44 L321.80,218.37 L322.05,218.30 L322.30,218.23 L322.55,218.15 L322.80,218.08 L323.05,218.01 L323.30,217.94 L323.55,217.86 L323.80,217.79 L324.05,217.72 L324.30,217.65 L324.55,217.57 L324.80,217.50 L325.05,217.43 L325.30,217.35 L325.55,217.28 L325.80,217.21 L326.05,217.14 L326.30,217.06 L326.55,216.99 L326.80,216.92 L327.05,216.85 L327.30,216.77 L327.55,216.70 L327.80,216.63 L328.05,216.56 L328.30,216.49 L328.55,216.42 L328.80,216.34 L329.05,216.27 L329.30,216.20 L329.55,216.13 L329.80,216.06 L330.05,215.99 L330.30,215.93 L330.55,215.86 L330.80,215.79 L331.05,215.72 L331.30,215.65 L331.55,215.59 L331.80,215.52 L332.05,215.45 L332.30,215.38 L332.55,215.32 L332.80,215.25 L333.05,215.18 L333.30,215.11 L333.55,215.04 L333.80,214.98 L334.05,214.91 L334.30,214.84 L334.55,214.77 L334.80,214.70 L335.05,214.64 L335.30,214.57 L335.55,214.50 L335.80,214.43 L336.05,214.37 L336.30,214.30 L336.55,214.24 L336.80,214.17 L337.05,214.11 L337.30,214.04 L337.55,213.98 L337.80,213.92 L338.05,213.85 L338.30,213.79 L338.55,213.73 L338.80,213.67 L339.05,213.61 L339.30,213.56 L339.55,213.50 L339.80,213.44 L340.05,213.39 L340.30,213.33 L340.55,213.28 L340.80,213.23 L341.05,213.18 L341.30,213.13 L341.55,213.08 L341.80,213.04 L342.05,212.99 L342.30,212.95 L342.55,212.90 L342.80,212.86 L343.05,212.81 L343.30,212.77 L343.55,212.73 L343.80,212.68 L344.05,212.64 L344.30,212.60 L344.55,212.56 L344.80,212.51 L345.05,212.47 L345.30,212.43 L345.55,212.39 L345.80,212.35 L346.05,212.31 L346.30,212.27 L346.55,212.24 L346.80,212.20 L347.05,212.16 L347.30,212.13 L347.55,212.09 L347.80,212.06 L348.05,212.02 L348.30,211.99 L348.55,211.96 L348.80,211.93 L349.05,211.90 L349.30,211.87 L349.55,211.84 L349.80,211.82 L350.05,211.79 L350.30,211.77 L350.55,211.74 L350.80,211.72 L351.05,211.70 L351.30,211.68 L351.55,211.66 L351.80,211.64 L352.05,211.63 L352.30,211.61 L352.55,211.60 L352.80,211.58 L353.05,211.57 L353.30,211.56 L353.55,211.55 L353.80,211.54 L354.05,211.53 L354.30,211.52 L354.55,211.51 L354.80,211.50 L355.05,211.50 L355.30,211.49 L355.55,211.49 L355.80,211.48 L356.05,211.48 L356.30,211.48 L356.55,211.48 L356.80,211.48 L357.05,211.48 L357.30,211.48 L357.55,211.48 L357.80,211.49 L358.05,211.50 L358.30,211.50 L358.55,211.51 L358.80,211.53 L359.05,211.54 L359.30,211.55 L359.55,211.57 L359.80,211.58 L360.05,211.60 L360.30,211.62 L360.55,211.65 L360.80,211.67 L361.05,211.69 L361.30,211.72 L361.55,211.74 L361.80,211.77 L362.05,211.80 L362.30,211.83 L362.55,211.86 L362.80,211.89 L363.05,211.92 L363.30,211.95 L363.55,211.99 L363.80,212.02 L364.05,212.05 L364.30,212.09 L364.55,212.12 L364.80,212.16 L365.05,212.19 L365.30,212.23 L365.55,212.27 L365.80,212.30 L366.05,212.34 L366.30,212.38 L366.55,212.41 L366.80,212.45 L367.05,212.49 L367.30,212.52 L367.55,212.56 L367.80,212.60 L368.05,212.63 L368.30,212.67 L368.55,212.70 L368.80,212.74 L369.05,212.77 L369.30,212.81 L369.55,212.84 L369.80,212.87 L370.05,212.91 L370.30,212.94 L370.55,212.97 L370.80,213.00 L371.05,213.03 L371.30,213.06 L371.55,213.09 L371.80,213.12 L372.05,213.15 L372.30,213.18 L372.55,213.21 L372.80,213.24 L373.05,213.27 L373.30,213.30 L373.55,213.33 L373.80,213.36 L374.05,213.39 L374.30,213.42 L374.55,213.45 L374.80,213.48 L375.05,213.51 L375.30,213.54 L375.55,213.57 L375.80,213.60 L376.05,213.63 L376.30,213.66 L376.55,213.69 L376.80,213.72 L377.05,213.75 L377.30,213.78 L377.55,213.82 L377.80,213.85 L378.05,213.88 L378.30,213.92 L378.55,213.95 L378.80,213.99 L379.05,214.03 L379.30,214.06 L379.55,214.10 L379.80,214.14 L380.05,214.18 L380.30,214.22 L380.55,214.26 L380.80,214.30 L381.05,214.34 L381.30,214.39 L381.55,214.44 L381.80,214.49 L382.05,214.54 L382.30,214.59 L382.55,214.64 L382.80,214.70 L383.05,214.75 L383.30,214.81 L383.55,214.87 L383.80,214.92 L384.05,214.98 L384.30,215.04 L384.55,215.11 L384.80,215.17 L385.05,215.23 L385.30,215.30 L385.55,215.36 L385.80,215.43 L386.05,215.49 L386.30,215.56 L386.55,215.63 L386.80,215.70 L387.05,215.76 L387.30,215.83 L387.55,215.90 L387.80,215.97 L388.05,216.04 L388.30,216.11 L388.55,216.18 L388.80,216.25 L389.05,216.32 L389.30,216.39 L389.55,216.46 L389.80,216.53 L390.05,216.60 L390.30,216.67 L390.55,216.74 L390.80,216.81 L391.05,216.89 L391.30,216.96 L391.55,217.04 L391.80,217.11 L392.05,217.19 L392.30,217.27 L392.55,217.35 L392.80,217.43 L393.05,217.51 L393.30,217.60 L393.55,217.68 L393.80,217.76 L394.05,217.85 L394.30,217.93 L394.55,218.02 L394.80,218.10 L395.05,218.19 L395.30,218.27 L395.55,218.36 L395.80,218.44 L396.05,218.53 L396.30,218.62 L396.55,218.70 L396.80,218.78 L397.05,218.87 L397.30,218.95 L397.55,219.04 L397.80,219.12 L398.05,219.20 L398.30,219.28 L398.55,219.36 L398.80,219.44 L399.05,219.52 L399.30,219.59 L399.55,219.67 L399.80,219.74 L400.05,219.82 L400.30,219.89 L400.55,219.96 L400.80,220.03 L401.05,220.10 L401.30,220.16 L401.55,220.23 L401.80,220.30 L402.05,220.37 L402.30,220.43 L402.55,220.50 L402.80,220.57 L403.05,220.63 L403.30,220.70 L403.55,220.76 L403.80,220.83 L404.05,220.89 L404.30,220.95 L404.55,221.02 L404.80,221.08 L405.05,221.14 L405.30,221.21 L405.55,221.27 L405.80,221.33 L406.05,221.39 L406.30,221.45 L406.55,221.51 L406.80,221.56 L407.05,221.62 L407.30,221.68 L407.55,221.73 L407.80,221.79 L408.05,221.84 L408.30,221.90 L408.55,221.95 L408.80,222.00 L409.05,222.05 L409.30,222.10 L409.55,222.15 L409.80,222.20 L410.05,222.25 L410.30,222.29 L410.55,222.34 L410.80,222.38 L411.05,222.43 L411.30,222.47 L411.55,222.51 L411.80,222.55 L412.05,222.59 L412.30,222.63 L412.55,222.67 L412.80,222.71 L413.05,222.75 L413.30,222.79 L413.55,222.83 L413.80,222.86 L414.05,222.90 L414.30,222.94 L414.55,222.98 L414.80,223.01 L415.05,223.05 L415.30,223.08 L415.55,223.12 L415.80,223.15 L416.05,223.19 L416.30,223.22 L416.55,223.26 L416.80,223.29 L417.05,223.33 L417.30,223.36 L417.55,223.40 L417.80,223.43 L418.05,223.47 L418.30,223.50 L418.55,223.54 L418.80,223.57 L419.05,223.61 L419.30,223.64 L419.55,223.68 L419.80,223.71 L420.05,223.75 L420.30,223.78 L420.55,223.82 L420.80,223.86 L421.05,223.89 L421.30,223.93 L421.55,223.97 L421.80,224.00 L422.05,224.04 L422.30,224.07 L422.55,224.11 L422.80,224.15 L423.05,224.18 L423.30,224.22 L423.55,224.26 L423.80,224.29 L424.05,224.33 L424.30,224.36 L424.55,224.40 L424.80,224.43 L425.05,224.47 L425.30,224.51 L425.55,224.54 L425.80,224.58 L426.05,224.61 L426.30,224.65 L426.55,224.69 L426.80,224.72 L427.05,224.76 L427.30,224.79 L427.55,224.83 L427.80,224.87 L428.05,224.90 L428.30,224.94 L428.55,224.98 L428.80,225.02 L429.05,225.05 L429.30,225.09 L429.55,225.13 L429.80,225.17 L430.05,225.20 L430.30,225.24 L430.55,225.28 L430.80,225.32 L431.05,225.36 L431.30,225.40 L431.55,225.44 L431.80,225.48 L432.05,225.52 L432.30,225.56 L432.55,225.60 L432.80,225.64 L433.05,225.68 L433.30,225.73 L433.55,225.77 L433.80,225.81 L434.05,225.85 L434.30,225.90 L434.55,225.94 L434.80,225.98 L435.05,226.03 L435.30,226.07 L435.55,226.12 L435.80,226.16 L436.05,226.21 L436.30,226.25 L436.55,226.30 L436.80,226.35 L437.05,226.39 L437.30,226.44 L437.55,226.49 L437.80,226.54 L438.05,226.59 L438.30,226.64 L438.55,226.69 L438.80,226.74 L439.05,226.80 L439.30,226.85 L439.55,226.90 L439.80,226.96 L440.05,227.01 L440.30,227.07 L440.55,227.13 L440.80,227.19 L441.05,227.25 L441.30,227.32 L441.55,227.38 L441.80,227.45 L442.05,227.52 L442.30,227.59 L442.55,227.66 L442.80,227.73 L443.05,227.80 L443.30,227.88 L443.55,227.95 L443.80,228.02 L444.05,228.09 L444.30,228.16 L444.55,228.23 L444.80,228.30 L445.05,228.36 L445.30,228.43 L445.55,228.49 L445.80,228.55 L446.05,228.62 L446.30,228.68 L446.55,228.75 L446.80,228.81 L447.05,228.87 L447.30,228.94 L447.55,229.00 L447.80,229.06 L448.05,229.13 L448.30,229.19 L448.55,229.25 L448.80,229.32 L449.05,229.38 L449.30,229.44 L449.55,229.50 L449.80,229.57 L450.05,229.63 L450.30,229.69 L450.55,229.75 L450.80,229.81 L451.05,229.88 L451.30,229.94 L451.55,230.00 L451.80,230.06 L452.05,230.12 L452.30,230.18 L452.55,230.24 L452.80,230.30 L453.05,230.36 L453.30,230.42 L453.55,230.48 L453.80,230.53 L454.05,230.59 L454.30,230.65 L454.55,230.71 L454.80,230.76 L455.05,230.82 L455.30,230.88 L455.55,230.93 L455.80,230.99 L456.05,231.04 L456.30,231.10 L456.55,231.15 L456.80,231.20 L457.05,231.26 L457.30,231.31 L457.55,231.36 L457.80,231.41 L458.05,231.46 L458.30,231.51 L458.55,231.56 L458.80,231.61 L459.05,231.66 L459.30,231.71 L459.55,231.76 L459.80,231.80 L460.05,231.85 L460.30,231.90 L460.55,231.95 L460.80,232.00 L461.05,232.05 L461.30,232.10 L461.55,232.14 L461.80,232.19 L462.05,232.24 L462.30,232.29 L462.55,232.34 L462.80,232.39 L463.05,232.44 L463.30,232.49 L463.55,232.54 L463.80,232.59 L464.05,232.64 L464.30,232.70 L464.55,232.75 L464.80,232.80 L465.05,232.86 L465.30,232.91 L465.55,232.97 L465.80,233.02 L466.05,233.08 L466.30,233.14 L466.55,233.20 L466.80,233.25 L467.05,233.32 L467.30,233.38 L467.55,233.44 L467.80,233.50 L468.05,233.56 L468.30,233.62 L468.55,233.69 L468.80,233.75 L469.05,233.82 L469.30,233.88 L469.55,233.95 L469.80,234.01 L470.05,234.07 L470.30,234.14 L470.55,234.20 L470.80,234.27 L471.05,234.33 L471.30,234.40 L471.55,234.46 L471.80,234.53 L472.05,234.59 L472.30,234.66 L472.55,234.72 L472.80,234.78 L473.05,234.84 L473.30,234.90 L473.55,234.97 L473.80,235.03 L474.05,235.09 L474.30,235.14 L474.55,235.20 L474.80,235.26 L475.05,235.32 L475.30,235.37 L475.55,235.43 L475.80,235.48 L476.05,235.53 L476.30,235.58 L476.55,235.63 L476.80,235.68 L477.05,235.73 L477.30,235.78 L477.55,235.82 L477.80,235.87 L478.05,235.91 L478.30,235.96 L478.55,236.00 L478.80,236.05 L479.05,236.09 L479.30,236.13 L479.55,236.17 L479.80,236.22 L480.05,236.26 L480.30,236.30 L480.55,236.34 L480.80,236.38 L481.05,236.42 L481.30,236.46 L481.55,236.50 L481.80,236.54 L482.05,236.58 L482.30,236.63 L482.55,236.67 L482.80,236.71 L483.05,236.75 L483.30,236.79 L483.55,236.83 L483.80,236.88 L484.05,236.92 L484.30,236.96 L484.55,237.01 L484.80,237.05 L485.05,237.10 L485.30,237.15 L485.55,237.19 L485.80,237.24 L486.05,237.29 L486.30,237.34 L486.55,237.39 L486.80,237.44 L487.05,237.49 L487.30,237.54 L487.55,237.59 L487.80,237.65 L488.05,237.70 L488.30,237.75 L488.55,237.80 L488.80,237.86 L489.05,237.91 L489.30,237.96 L489.55,238.02 L489.80,238.07 L490.05,238.13 L490.30,238.18 L490.55,238.23 L490.80,238.29 L491.05,238.34 L491.30,238.40 L491.55,238.45 L491.80,238.51 L492.05,238.56 L492.30,238.62 L492.55,238.67 L492.80,238.73 L493.05,238.78 L493.30,238.84 L493.55,238.90 L493.80,238.95 L494.05,239.01 L494.30,239.06 L494.55,239.12 L494.80,239.17 L495.05,239.23 L495.30,239.28 L495.55,239.34 L495.80,239.39 L496.05,239.45 L496.30,239.50 L496.55,239.55 L496.80,239.61 L497.05,239.66 L497.30,239.72 L497.55,239.77 L497.80,239.83 L498.05,239.89 L498.30,239.94 L498.55,240.00 L498.80,240.06 L499.05,240.11 L499.30,240.17 L499.55,240.22 L499.80,240.28 L500.05,240.34 L500.30,240.39 L500.55,240.45 L500.80,240.51 L501.05,240.56 L501.30,240.62 L501.55,240.67 L501.80,240.73 L502.05,240.78 L502.30,240.84 L502.55,240.89 L502.80,240.94 L503.05,241.00 L503.30,241.05 L503.55,241.10 L503.80,241.16 L504.05,241.21 L504.30,241.26 L504.55,241.31 L504.80,241.36 L505.05,241.41 L505.30,241.46 L505.55,241.50 L505.80,241.55 L506.05,241.59 L506.30,241.64 L506.55,241.68 L506.80,241.72 L507.05,241.76 L507.30,241.80 L507.55,241.84 L507.80,241.88 L508.05,241.92 L508.30,241.96 L508.55,242.00 L508.80,242.04 L509.05,242.09 L509.30,242.13 L509.55,242.18 L509.80,242.22 L510.05,242.27 L510.30,242.32 L510.55,242.37 L510.80,242.42 L511.05,242.47 L511.30,242.53 L511.55,242.58 L511.80,242.63 L512.05,242.69 L512.30,242.74 L512.55,242.80 L512.80,242.85 L513.05,242.91 L513.30,242.97 L513.55,243.02 L513.80,243.08 L514.05,243.14 L514.30,243.20 L514.55,243.26 L514.80,243.31 L515.05,243.37 L515.30,243.43 L515.55,243.49 L515.80,243.55 L516.05,243.61 L516.30,243.67 L516.55,243.73 L516.80,243.78 L517.05,243.84 L517.30,243.90 L517.55,243.96 L517.80,244.02 L518.05,244.08 L518.30,244.13 L518.55,244.19 L518.80,244.25 L519.05,244.30 L519.30,244.36 L519.55,244.41 L519.80,244.47 L520.05,244.52 L520.30,244.58 L520.55,244.63 L520.80,244.69 L521.05,244.74 L521.30,244.79 L521.55,244.85 L521.80,244.90 L522.05,244.95 L522.30,245.00 L522.55,245.06 L522.80,245.11 L523.05,245.16 L523.30,245.22 L523.55,245.27 L523.80,245.32 L524.05,245.37 L524.30,245.42 L524.55,245.48 L524.80,245.53 L525.05,245.58 L525.30,245.63 L525.55,245.68 L525.80,245.73 L526.05,245.78 L526.30,245.84 L526.55,245.89 L526.80,245.94 L527.05,245.99 L527.30,246.04 L527.55,246.09 L527.80,246.14 L528.05,246.19 L528.30,246.24 L528.55,246.29 L528.80,246.33 L529.05,246.38 L529.30,246.43 L529.55,246.48 L529.80,246.53 L530.05,246.58 L530.30,246.62 L530.55,246.67 L530.80,246.72 L531.05,246.77 L531.30,246.81 L531.55,246.86 L531.80,246.91 L532.05,246.95 L532.30,247.00 L532.55,247.05 L532.80,247.09 L533.05,247.14 L533.30,247.18 L533.55,247.23 L533.80,247.28 L534.05,247.32 L534.30,247.37 L534.55,247.41 L534.80,247.46 L535.05,247.50 L535.30,247.55 L535.55,247.59 L535.80,247.64 L536.05,247.68 L536.30,247.73 L536.55,247.77 L536.80,247.81 L537.05,247.86 L537.30,247.90 L537.55,247.94 L537.80,247.99 L538.05,248.03 L538.30,248.07 L538.55,248.11 L538.80,248.16 L539.05,248.20 L539.30,248.24 L539.55,248.28 L539.80,248.32 L540.05,248.36 L540.30,248.40 L540.55,248.44 L540.80,248.48 L541.05,248.52 L541.30,248.56 L541.55,248.60 L541.80,248.64 L542.05,248.68 L542.30,248.72 L542.55,248.76 L542.80,248.80 L543.05,248.84 L543.30,248.88 L543.55,248.91 L543.80,248.95 L544.05,248.99 L544.30,249.03 L544.55,249.06 L544.80,249.10 L545.05,249.14 L545.30,249.18 L545.55,249.21 L545.80,249.25 L546.05,249.29 L546.30,249.32 L546.55,249.36 L546.80,249.40 L547.05,249.43 L547.30,249.47 L547.55,249.50 L547.80,249.54 L548.05,249.58 L548.30,249.61 L548.55,249.65 L548.80,249.68 L549.05,249.72 L549.30,249.75 L549.55,249.79 L549.80,249.82 L550.05,249.86 L550.30,249.89 L550.55,249.92 L550.80,249.96 L551.05,249.99 L551.30,250.03 L551.55,250.06 L551.80,250.10 L552.05,250.13 L552.30,250.16 L552.55,250.20 L552.80,250.23 L553.05,250.27 L553.30,250.30 L553.55,250.33 L553.80,250.37 L554.05,250.40 L554.30,250.44 L554.55,250.47 L554.80,250.50 L555.05,250.54 L555.30,250.57 L555.55,250.60 L555.80,250.64 L556.05,250.67 L556.30,250.70 L556.55,250.73 L556.80,250.77 L557.05,250.80 L557.30,250.83 L557.55,250.86 L557.80,250.89 L558.05,250.93 L558.30,250.96 L558.55,250.99 L558.80,251.02 L559.05,251.05 L559.30,251.08 L559.55,251.11 L559.80,251.13 L560.05,251.16 L560.30,251.19 L560.55,251.22 L560.80,251.25 L561.05,251.27 L561.30,251.30 L561.55,251.33 L561.80,251.35 L562.05,251.38 L562.30,251.40 L562.55,251.43 L562.80,251.45 L563.05,251.48 L563.30,251.50 L563.55,251.52 L563.80,251.55 L564.05,251.57 L564.30,251.59 L564.55,251.62 L564.80,251.64 L565.05,251.66 L565.30,251.68 L565.55,251.71 L565.80,251.73 L566.05,251.75 L566.30,251.77 L566.55,251.79 L566.80,251.82 L567.05,251.84 L567.30,251.86 L567.55,251.88 L567.80,251.90 L568.05,251.93 L568.30,251.95 L568.55,251.97 L568.80,251.99 L569.05,252.01 L569.30,252.04 L569.55,252.06 L569.80,252.08 L570.05,252.10 L570.30,252.13 L570.55,252.15 L570.80,252.17 L571.05,252.19 L571.30,252.22 L571.55,252.24 L571.80,252.26 L572.05,252.28 L572.30,252.31 L572.55,252.33 L572.80,252.35 L573.05,252.37 L573.30,252.39 L573.55,252.42 L573.80,252.44 L574.05,252.46 L574.30,252.48 L574.55,252.50 L574.80,252.53 L575.05,252.55 L575.30,252.57 L575.55,252.59 L575.80,252.62 L576.05,252.64 L576.30,252.66 L576.55,252.69 L576.80,252.71 L577.05,252.73 L577.30,252.76 L577.55,252.78 L577.80,252.80 L578.05,252.83 L578.30,252.85 L578.55,252.88 L578.80,252.90 L579.05,252.92 L579.30,252.95 L579.55,252.98 L579.80,253.00 L580.05,253.03 L580.30,253.05 L580.55,253.08 L580.80,253.11 L581.05,253.13 L581.30,253.16 L581.55,253.19 L581.80,253.21 L582.05,253.24 L582.30,253.27 L582.55,253.30 L582.80,253.33 L583.05,253.35 L583.30,253.38 L583.55,253.41 L583.80,253.44 L584.05,253.47 L584.30,253.50 L584.55,253.53 L584.80,253.56 L585.05,253.59 L585.30,253.62 L585.55,253.65 L585.80,253.68 L586.05,253.71 L586.30,253.75 L586.55,253.78 L586.80,253.81 L587.05,253.84 L587.30,253.87 L587.55,253.91 L587.80,253.94 L588.05,253.97 L588.30,254.01 L588.55,254.04 L588.80,254.08 L589.05,254.11 L589.30,254.15 L589.55,254.18 L589.80,254.22 L590.05,254.26 L590.30,254.30 L590.55,254.33 L590.80,254.37 L591.05,254.41 L591.30,254.45 L591.55,254.49 L591.80,254.53 L592.05,254.57 L592.30,254.61 L592.55,254.65 L592.80,254.69 L593.05,254.73 L593.30,254.78 L593.55,254.82 L593.80,254.86 L594.05,254.90 L594.30,254.95 L594.55,254.99 L594.80,255.03 L595.05,255.08 L595.30,255.12 L595.55,255.17 L595.80,255.21 L596.05,255.25 L596.30,255.30 L596.55,255.35 L596.80,255.39 L597.05,255.44 L597.30,255.49 L597.55,255.53 L597.80,255.58 L598.05,255.63 L598.30,255.68 L598.55,255.73 L598.80,255.78 L599.05,255.83 L599.30,255.88 L599.55,255.94 L599.80,255.99 L600.05,256.04 L600.30,256.09 L600.55,256.15 L600.80,256.20 L601.05,256.25 L601.30,256.31 L601.55,256.36 L601.80,256.41 L602.05,256.47 L602.30,256.52 L602.55,256.57 L602.80,256.63 L603.05,256.68 L603.30,256.74 L603.55,256.79 L603.80,256.84 L604.05,256.90 L604.30,256.95 L604.55,257.00 L604.80,257.06 L605.05,257.11 L605.30,257.16 L605.55,257.22 L605.80,257.27 L606.05,257.32 L606.30,257.38 L606.55,257.43 L606.80,257.48 L607.05,257.54 L607.30,257.59 L607.55,257.65 L607.80,257.70 L608.05,257.76 L608.30,257.81 L608.55,257.86 L608.80,257.92 L609.05,257.97 L609.30,258.03 L609.55,258.08 L609.80,258.14 L610.05,258.19 L610.30,258.25 L610.55,258.30 L610.80,258.36 L611.05,258.41 L611.30,258.46 L611.55,258.52 L611.80,258.57 L612.05,258.63 L612.30,258.68 L612.55,258.73 L612.80,258.79 L613.05,258.84 L613.30,258.89 L613.55,258.95 L613.80,259.00 L614.05,259.05 L614.30,259.11 L614.55,259.16 L614.80,259.21 L615.05,259.26 L615.30,259.32 L615.55,259.37 L615.80,259.42 L616.05,259.47 L616.30,259.52 L616.55,259.58 L616.80,259.63 L617.05,259.68 L617.30,259.73 L617.55,259.78 L617.80,259.84 L618.05,259.89 L618.30,259.94 L618.55,259.99 L618.80,260.04 L619.05,260.09 L619.30,260.15 L619.55,260.20 L619.80,260.25 L620.05,260.30 L620.30,260.35 L620.55,260.40 L620.80,260.45 L621.05,260.50 L621.30,260.56 L621.55,260.61 L621.80,260.66 L622.05,260.71 L622.30,260.76 L622.55,260.81 L622.80,260.86 L623.05,260.91 L623.30,260.96 L623.55,261.01 L623.80,261.07 L624.05,261.12 L624.30,261.17 L624.55,261.22 L624.80,261.27 L625.05,261.32 L625.30,261.37 L625.55,261.42 L625.80,261.47 L626.05,261.53 L626.30,261.58 L626.55,261.63 L626.80,261.68 L627.05,261.73 L627.30,261.78 L627.55,261.83 L627.80,261.88 L628.05,261.93 L628.30,261.98 L628.55,262.02 L628.80,262.07 L629.05,262.12 L629.30,262.17 L629.55,262.22 L629.80,262.26 L630.05,262.31 L630.30,262.36 L630.55,262.40 L630.80,262.45 L631.05,262.49 L631.30,262.54 L631.55,262.58 L631.80,262.63 L632.05,262.68 L632.30,262.72 L632.55,262.76 L632.80,262.81 L633.05,262.85 L633.30,262.90 L633.55,262.94 L633.80,262.98 L634.05,263.03 L634.30,263.07 L634.55,263.11 L634.80,263.16 L635.05,263.20 L635.30,263.24 L635.55,263.28 L635.80,263.32 L636.05,263.37 L636.30,263.41 L636.55,263.45 L636.80,263.49 L637.05,263.53 L637.30,263.57 L637.55,263.61 L637.80,263.65 L638.05,263.69 L638.30,263.73 L638.55,263.76 L638.80,263.80 L639.05,263.84 L639.30,263.88 L639.55,263.92 L639.80,263.96 L640.05,263.99 L640.30,264.03 L640.55,264.07 L640.80,264.11 L641.05,264.14 L641.30,264.18 L641.55,264.22 L641.80,264.25 L642.05,264.29 L642.30,264.33 L642.55,264.36 L642.80,264.40 L643.05,264.43 L643.30,264.47 L643.55,264.50 L643.80,264.54 L644.05,264.57 L644.30,264.61 L644.55,264.64 L644.80,264.67 L645.05,264.71 L645.30,264.74 L645.55,264.77 L645.80,264.81 L646.05,264.84 L646.30,264.87 L646.55,264.91 L646.80,264.94 L647.05,264.97 L647.30,265.01 L647.55,265.04 L647.80,265.07 L648.05,265.10 L648.30,265.14 L648.55,265.17 L648.80,265.20 L649.05,265.23 L649.30,265.27 L649.55,265.30 L649.80,265.33 L650.05,265.36 L650.30,265.39 L650.55,265.42 L650.80,265.45 L651.05,265.48 L651.30,265.52 L651.55,265.55 L651.80,265.58 L652.05,265.60 L652.30,265.63 L652.55,265.66 L652.80,265.69 L653.05,265.72 L653.30,265.75 L653.55,265.78 L653.80,265.80 L654.05,265.83 L654.30,265.86 L654.55,265.88 L654.80,265.91 L655.05,265.94 L655.30,265.96 L655.55,265.99 L655.80,266.01 L656.05,266.04 L656.30,266.06 L656.55,266.09 L656.80,266.12 L657.05,266.14 L657.30,266.17 L657.55,266.19 L657.80,266.22 L658.05,266.24 L658.30,266.26 L658.55,266.29 L658.80,266.31 L659.05,266.34 L659.30,266.36 L659.55,266.38 L659.80,266.41 L660.05,266.43 L660.30,266.45 L660.55,266.47 L660.80,266.50 L661.05,266.52 L661.30,266.54 L661.55,266.56 L661.80,266.58 L662.05,266.60 L662.30,266.63 L662.55,266.65 L662.80,266.67 L663.05,266.69 L663.30,266.70 L663.55,266.72 L663.80,266.74 L664.05,266.76 L664.30,266.78 L664.55,266.80 L664.80,266.81 L665.05,266.83 L665.30,266.85 L665.55,266.87 L665.80,266.88 L666.05,266.90 L666.30,266.92 L666.55,266.94 L666.80,266.95 L667.05,266.97 L667.30,266.99 L667.55,267.00 L667.80,267.02 L668.05,267.04 L668.30,267.05 L668.55,267.07 L668.80,267.09 L669.05,267.10 L669.30,267.12 L669.55,267.14 L669.80,267.15 L670.05,267.17 L670.30,267.18 L670.55,267.20 L670.80,267.21 L671.05,267.23 L671.30,267.24 L671.55,267.26 L671.80,267.27 L672.05,267.29 L672.30,267.30 L672.55,267.32 L672.80,267.33 L673.05,267.34 L673.30,267.36 L673.55,267.37 L673.80,267.38 L674.05,267.39 L674.30,267.41 L674.55,267.42 L674.80,267.43 L675.05,267.44 L675.30,267.45 L675.55,267.46 L675.80,267.47 L676.05,267.48 L676.30,267.49 L676.55,267.50 L676.60,267.50" fill="none" stroke="#a5a5a5" stroke-width="3" stroke-linejoin="round"/>
<!-- legend -->
<rect x="235.5" y="23.5" width="353" height="30.5" fill="#fff" stroke="#d9d9d9" stroke-width="1"/>
<line x1="262" y1="38.8" x2="276" y2="38.8" stroke="#c0504d" stroke-width="3.2" stroke-linecap="round" stroke-dasharray="0 6.5"/>
<line x1="331.5" y1="38.4" x2="349.5" y2="38.4" stroke="#91b74d" stroke-width="3.2" stroke-linecap="butt"/>
<path d="M403.8,38.6 H409.3 M415.5,38.6 H420.2" stroke="#7f62a8" stroke-width="3" stroke-linecap="round"/>
<line x1="470" y1="38.4" x2="488.5" y2="38.4" stroke="#a5a5a5" stroke-width="3"/>
<!-- texts -->
<text x="54.80" y="60.10" font-size="19.25" font-weight="bold" textLength="26.60" lengthAdjust="spacingAndGlyphs">1.5</text>
<text x="71.10" y="131.70" font-size="19.25" font-weight="bold" textLength="10.00" lengthAdjust="spacingAndGlyphs">1</text>
<text x="54.10" y="204.10" font-size="19.25" font-weight="bold" textLength="26.80" lengthAdjust="spacingAndGlyphs">0.5</text>
<text x="70.60" y="276.20" font-size="19.25" font-weight="bold" textLength="11.20" lengthAdjust="spacingAndGlyphs">0</text>
<text x="84.90" y="303.30" font-size="19.25" font-weight="bold" textLength="32.60" lengthAdjust="spacingAndGlyphs">200</text>
<text x="232.30" y="303.30" font-size="19.25" font-weight="bold" textLength="32.00" lengthAdjust="spacingAndGlyphs">250</text>
<text x="379.50" y="303.30" font-size="19.25" font-weight="bold" textLength="32.60" lengthAdjust="spacingAndGlyphs">300</text>
<text x="526.70" y="303.30" font-size="19.25" font-weight="bold" textLength="32.40" lengthAdjust="spacingAndGlyphs">350</text>
<text x="296.00" y="331.80" font-size="23.00" font-weight="bold" textLength="185.60" lengthAdjust="spacingAndGlyphs">Wavelength (nm)</text>
<text transform="translate(38.80,234.50) rotate(-90)" font-size="23.07" font-weight="bold" textLength="165.40" lengthAdjust="spacingAndGlyphs">Absorbance (A)</text>
<text x="280.20" y="44.80" font-size="20.50" font-weight="normal" textLength="26.20" lengthAdjust="spacingAndGlyphs">FN</text>
<text x="350.40" y="44.80" font-size="20.50" font-weight="normal" textLength="27.20" lengthAdjust="spacingAndGlyphs">PN</text>
<text x="421.90" y="44.80" font-size="20.50" font-weight="normal" textLength="24.00" lengthAdjust="spacingAndGlyphs">PZ</text>
<text x="489.00" y="44.80" font-size="20.50" font-weight="normal" textLength="76.40" lengthAdjust="spacingAndGlyphs">Mixture</text>
</svg>
</body></html>
